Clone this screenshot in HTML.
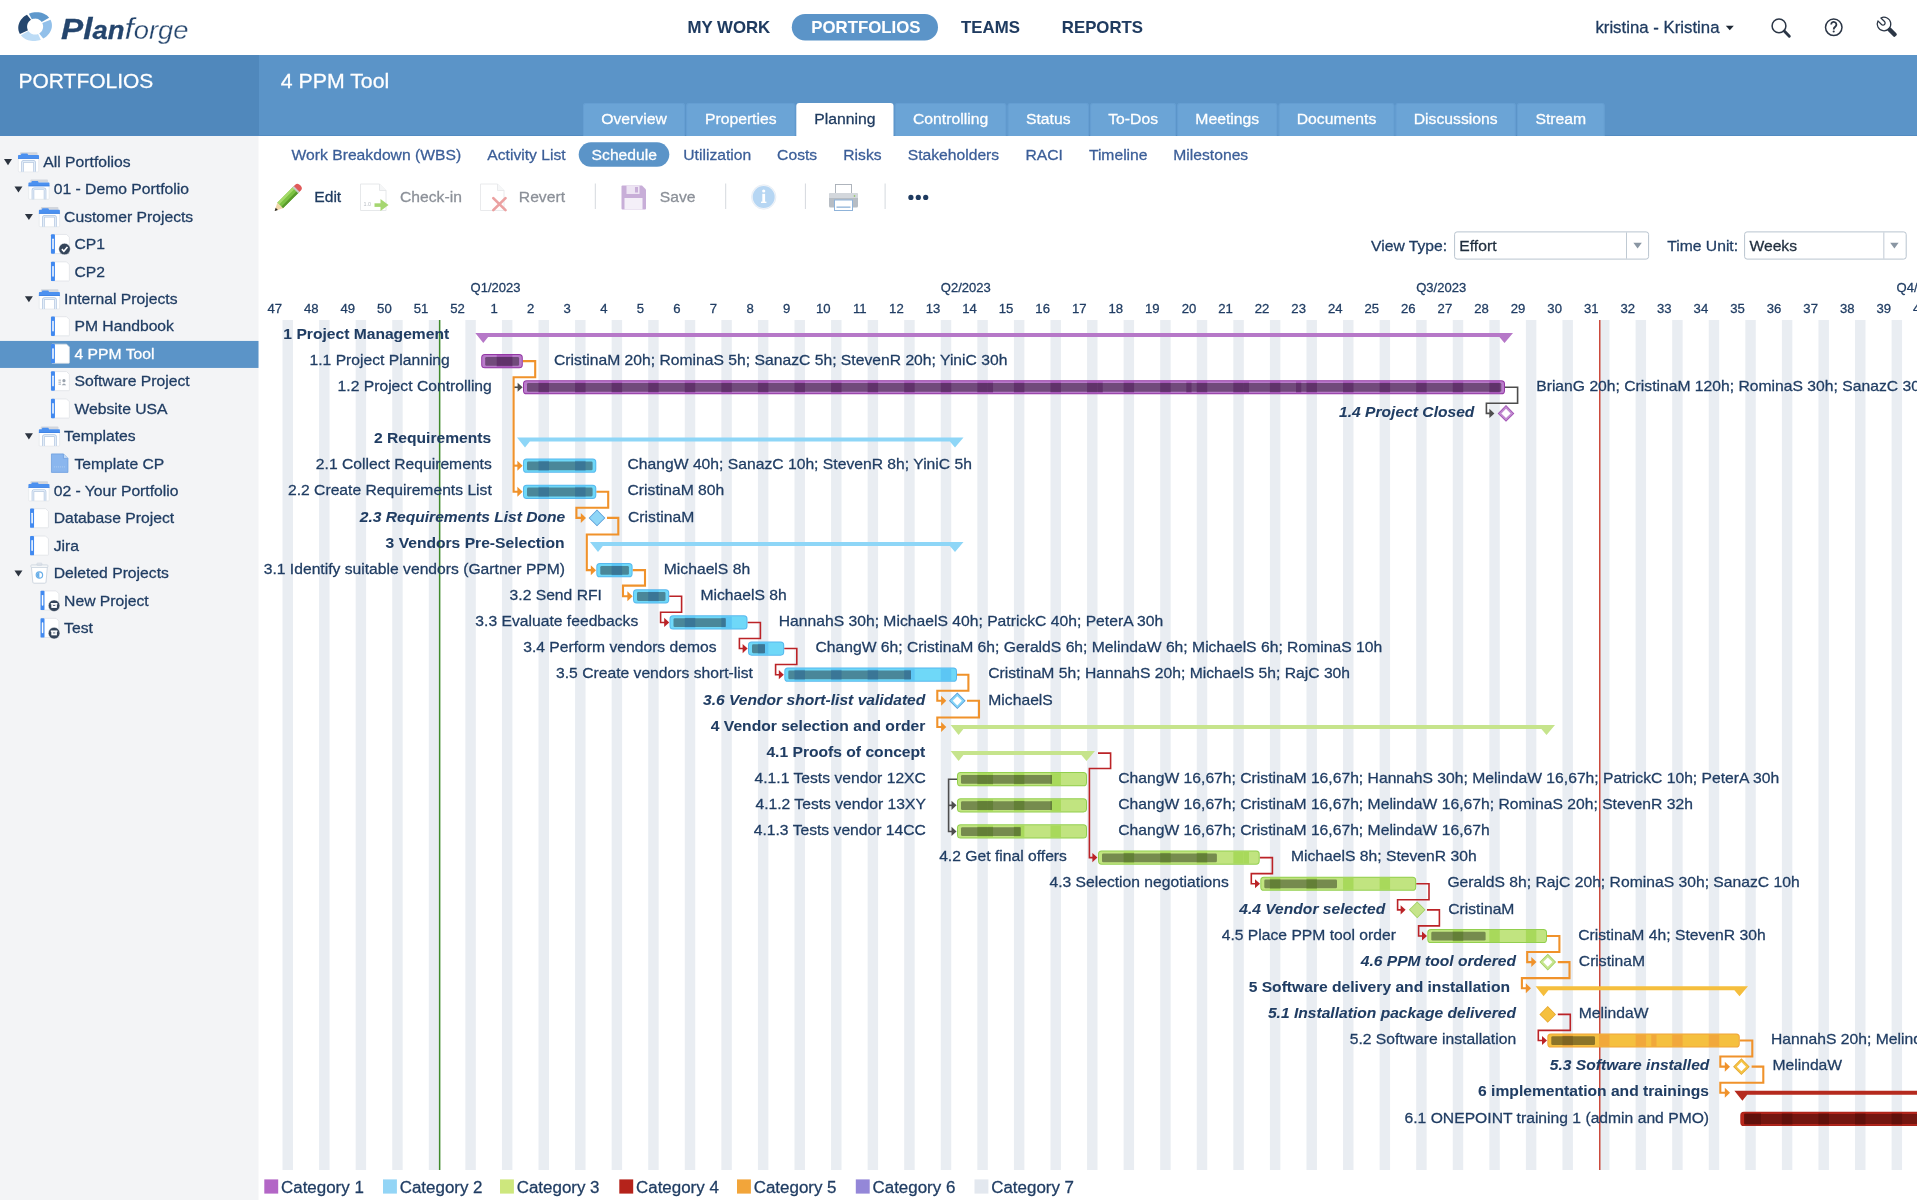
<!DOCTYPE html><html><head><meta charset="utf-8"><title>Planforge - 4 PPM Tool</title><style>html,body{margin:0;padding:0;background:#fff;}body{width:1920px;height:1200px;overflow:hidden;position:relative;font-family:"Liberation Sans", sans-serif;}svg text{font-family:"Liberation Sans", sans-serif;}svg{will-change:transform;}text.t{stroke-width:0.3px;}</style></head><body>
<svg width="1920" height="1200" viewBox="0 0 1920 1200" style="position:absolute;left:0;top:0" font-family="Liberation Sans, sans-serif">
<rect x="0" y="0" width="1920" height="1200" fill="#fff"/>
<g transform="rotate(-14 35.1 26.6)">
<polygon points="18.6,30.04 18.29,28.71 18.13,27.37 18.11,26.03 18.26,24.69 18.55,23.36 18.99,22.06 19.58,20.81 20.3,19.61 21.16,18.47 22.15,17.4 23.25,16.42 24.46,15.53 25.76,14.73 27.15,14.05 28.61,13.47 30.13,13.02 32.76,18.95 32.05,19.21 31.36,19.53 30.71,19.91 30.09,20.36 29.52,20.86 29.01,21.42 28.54,22.02 28.14,22.66 27.8,23.34 27.52,24.05 27.31,24.77 27.17,25.52 27.11,26.28 27.11,27.04 27.19,27.79 27.34,28.54" fill="#24466e"/>
<polygon points="32.15,12.62 33.58,12.46 35.03,12.4 36.47,12.45 37.91,12.59 39.32,12.84 40.7,13.19 42.05,13.64 43.34,14.18 44.58,14.81 45.74,15.53 46.83,16.32 47.83,17.19 48.74,18.13 49.56,19.13 50.26,20.18 50.86,21.28 42.52,23.6 42.24,22.98 41.9,22.39 41.52,21.83 41.09,21.3 40.62,20.81 40.11,20.36 39.56,19.96 38.98,19.6 38.37,19.3 37.74,19.05 37.09,18.85 36.42,18.71 35.75,18.63 35.07,18.6 34.39,18.63 33.71,18.72" fill="#5e98cc"/>
<polygon points="51.73,23.65 51.98,24.95 52.1,26.26 52.06,27.58 51.88,28.88 51.55,30.17 51.09,31.43 50.48,32.64 49.75,33.81 48.89,34.91 47.91,35.94 46.82,36.89 45.62,37.75 44.34,38.52 42.98,39.18 41.55,39.74 40.07,40.18 37.44,34.25 38.14,34 38.81,33.69 39.45,33.31 40.05,32.88 40.61,32.4 41.13,31.86 41.59,31.28 41.99,30.66 42.34,30 42.62,29.32 42.84,28.61 43,27.89 43.08,27.15 43.1,26.41 43.05,25.67 42.93,24.94" fill="#92c0ea"/>
<polygon points="37.47,40.66 36.03,40.78 34.58,40.79 33.14,40.71 31.71,40.51 30.31,40.22 28.94,39.83 27.61,39.35 26.34,38.77 25.14,38.11 24,37.36 22.95,36.53 21.98,35.63 21.11,34.67 20.34,33.65 19.68,32.57 19.13,31.46 27.58,29.34 27.84,29.97 28.15,30.57 28.52,31.15 28.93,31.69 29.38,32.19 29.88,32.66 30.41,33.08 30.98,33.46 31.58,33.78 32.2,34.06 32.84,34.28 33.51,34.44 34.18,34.55 34.86,34.6 35.54,34.59 36.21,34.52" fill="#bddcf6"/>
</g>
<text transform="matrix(1,0,0,0.98,61,38.7)" font-size="31" fill="#24456d" font-style="italic" textLength="127.5" lengthAdjust="spacingAndGlyphs" stroke="#24456d" stroke-width="0.28"><tspan font-weight="bold">Pl</tspan><tspan font-weight="bold" font-size="25.5">an</tspan><tspan stroke="#fff" stroke-width="0.3" font-size="31">f</tspan><tspan stroke="#fff" stroke-width="0.3" font-size="25.5">orge</tspan></text>
<text transform="matrix(1,0,0,0.98,687.5,33)" font-size="16.8" fill="#1f3b60" font-weight="bold" stroke="#1f3b60" stroke-width="0.06">MY WORK</text>
<rect x="791.8" y="14" width="146.2" height="26.4" rx="13.2" fill="#5b94c8"/>
<text transform="matrix(1,0,0,0.98,811.3,33)" font-size="16.8" fill="#fff" font-weight="bold" stroke="#fff" stroke-width="0.06">PORTFOLIOS</text>
<text transform="matrix(1,0,0,0.98,961.1,33)" font-size="16.8" fill="#1f3b60" font-weight="bold" stroke="#1f3b60" stroke-width="0.06">TEAMS</text>
<text transform="matrix(1,0,0,0.98,1061.8,33)" font-size="16.8" fill="#1f3b60" font-weight="bold" stroke="#1f3b60" stroke-width="0.06">REPORTS</text>
<text transform="matrix(1,0,0,0.98,1595.4,33)" font-size="16.8" fill="#1f3b60" stroke="#1f3b60" stroke-width="0.28">kristina - Kristina</text>
<polygon points="1725.8,25.8 1733.8,25.8 1729.8,30.2" fill="#1e2835"/>
<circle cx="1779" cy="25.9" r="6.9" fill="none" stroke="#2b3646" stroke-width="1.5"/>
<path d="M1784.2,31.1 L1789.3,36.3" stroke="#2b3646" stroke-width="2.9" stroke-linecap="round"/>
<circle cx="1833.75" cy="27.3" r="8.25" fill="none" stroke="#2b3646" stroke-width="1.5"/>
<path d="M1831.2,24.6 A2.6,2.6 0 1 1 1835.4,26.6 Q1833.7,27.6 1833.7,29.4" fill="none" stroke="#2b3646" stroke-width="1.8"/>
<circle cx="1833.7" cy="31.5" r="1.05" fill="#2b3646"/>
<g transform="translate(1884,24) rotate(-45)"><path d="M-2.1,-6.47 A6.8,6.8 0 1 0 2.1,-6.47 L2.1,-1.4 A2.1,2.1 0 0 1 -2.1,-1.4 Z" fill="#fff" stroke="#2b3646" stroke-width="1.25" stroke-linejoin="round"/><rect x="-2.25" y="6.2" width="4.5" height="10.6" rx="1.6" fill="#2b3646"/></g>
<rect x="0" y="55" width="259" height="81" fill="#5088bc"/>
<rect x="259" y="55" width="1658" height="81" fill="#5b94c8"/>
<rect x="0" y="135.2" width="1917" height="0.8" fill="#5089c0"/>
<text transform="matrix(1,0,0,0.98,18.6,87.7)" font-size="20.95" fill="#fff" stroke="#fff" stroke-width="0.28">PORTFOLIOS</text>
<text transform="matrix(1,0,0,0.98,280.8,87.7)" font-size="21.3" fill="#fff" stroke="#fff" stroke-width="0.28">4 PPM Tool</text>
<path d="M583,136 V106 Q583,103 586,103 H682 Q685,103 685,106 V136 Z" fill="#6ba4d6"/>
<path d="M583.4,136 V106 Q583.4,103.4 586,103.4 H682 Q684.6,103.4 684.6,106 V136" fill="none" stroke="#639cd0" stroke-width="0.8"/>
<text transform="matrix(1,0,0,0.98,634,123.6)" font-size="15.75" fill="#fff" text-anchor="middle" stroke="#fff" stroke-width="0.28">Overview</text>
<path d="M686.2,136 V106 Q686.2,103 689.2,103 H792.3 Q795.3,103 795.3,106 V136 Z" fill="#6ba4d6"/>
<path d="M686.6,136 V106 Q686.6,103.4 689.2,103.4 H792.3 Q794.9,103.4 794.9,106 V136" fill="none" stroke="#639cd0" stroke-width="0.8"/>
<text transform="matrix(1,0,0,0.98,740.75,123.6)" font-size="15.75" fill="#fff" text-anchor="middle" stroke="#fff" stroke-width="0.28">Properties</text>
<path d="M796.3,136 V106 Q796.3,103 799.3,103 H890.5 Q893.5,103 893.5,106 V136 Z" fill="#fff"/>
<text transform="matrix(1,0,0,0.98,844.9,123.6)" font-size="15.75" fill="#1f3b60" text-anchor="middle" stroke="#1f3b60" stroke-width="0.28">Planning</text>
<path d="M894.8,136 V106 Q894.8,103 897.8,103 H1003.3 Q1006.3,103 1006.3,106 V136 Z" fill="#6ba4d6"/>
<path d="M895.2,136 V106 Q895.2,103.4 897.8,103.4 H1003.3 Q1005.9,103.4 1005.9,106 V136" fill="none" stroke="#639cd0" stroke-width="0.8"/>
<text transform="matrix(1,0,0,0.98,950.55,123.6)" font-size="15.75" fill="#fff" text-anchor="middle" stroke="#fff" stroke-width="0.28">Controlling</text>
<path d="M1007.6,136 V106 Q1007.6,103 1010.6,103 H1085.9 Q1088.9,103 1088.9,106 V136 Z" fill="#6ba4d6"/>
<path d="M1008,136 V106 Q1008,103.4 1010.6,103.4 H1085.9 Q1088.5,103.4 1088.5,106 V136" fill="none" stroke="#639cd0" stroke-width="0.8"/>
<text transform="matrix(1,0,0,0.98,1048.25,123.6)" font-size="15.75" fill="#fff" text-anchor="middle" stroke="#fff" stroke-width="0.28">Status</text>
<path d="M1090.2,136 V106 Q1090.2,103 1093.2,103 H1173 Q1176,103 1176,106 V136 Z" fill="#6ba4d6"/>
<path d="M1090.6,136 V106 Q1090.6,103.4 1093.2,103.4 H1173 Q1175.6,103.4 1175.6,106 V136" fill="none" stroke="#639cd0" stroke-width="0.8"/>
<text transform="matrix(1,0,0,0.98,1133.1,123.6)" font-size="15.75" fill="#fff" text-anchor="middle" stroke="#fff" stroke-width="0.28">To-Dos</text>
<path d="M1177.2,136 V106 Q1177.2,103 1180.2,103 H1274.3 Q1277.3,103 1277.3,106 V136 Z" fill="#6ba4d6"/>
<path d="M1177.6,136 V106 Q1177.6,103.4 1180.2,103.4 H1274.3 Q1276.9,103.4 1276.9,106 V136" fill="none" stroke="#639cd0" stroke-width="0.8"/>
<text transform="matrix(1,0,0,0.98,1227.25,123.6)" font-size="15.75" fill="#fff" text-anchor="middle" stroke="#fff" stroke-width="0.28">Meetings</text>
<path d="M1278.6,136 V106 Q1278.6,103 1281.6,103 H1391.4 Q1394.4,103 1394.4,106 V136 Z" fill="#6ba4d6"/>
<path d="M1279,136 V106 Q1279,103.4 1281.6,103.4 H1391.4 Q1394,103.4 1394,106 V136" fill="none" stroke="#639cd0" stroke-width="0.8"/>
<text transform="matrix(1,0,0,0.98,1336.5,123.6)" font-size="15.75" fill="#fff" text-anchor="middle" stroke="#fff" stroke-width="0.28">Documents</text>
<path d="M1395.5,136 V106 Q1395.5,103 1398.5,103 H1512.8 Q1515.8,103 1515.8,106 V136 Z" fill="#6ba4d6"/>
<path d="M1395.9,136 V106 Q1395.9,103.4 1398.5,103.4 H1512.8 Q1515.4,103.4 1515.4,106 V136" fill="none" stroke="#639cd0" stroke-width="0.8"/>
<text transform="matrix(1,0,0,0.98,1455.65,123.6)" font-size="15.75" fill="#fff" text-anchor="middle" stroke="#fff" stroke-width="0.28">Discussions</text>
<path d="M1517,136 V106 Q1517,103 1520,103 H1601.7 Q1604.7,103 1604.7,106 V136 Z" fill="#6ba4d6"/>
<path d="M1517.4,136 V106 Q1517.4,103.4 1520,103.4 H1601.7 Q1604.3,103.4 1604.3,106 V136" fill="none" stroke="#639cd0" stroke-width="0.8"/>
<text transform="matrix(1,0,0,0.98,1560.85,123.6)" font-size="15.75" fill="#fff" text-anchor="middle" stroke="#fff" stroke-width="0.28">Stream</text>
<rect x="0" y="136" width="258.5" height="1064" fill="#f3f4f6"/>
<polygon points="4,159.1 12,159.1 8,165.2" fill="#2c3440"/>
<g transform="translate(18,152.2)"><rect x="2" y="0" width="17.5" height="3.4" rx="0.8" fill="#d2d6dd"/><rect x="0.3" y="2.9" width="20.4" height="16.8" rx="0.8" fill="#fff" stroke="#dfe2e7" stroke-width="0.6"/><path d="M0,3.6 Q0,2.8 0.8,2.8 H2.8 L3.5,1.3 H9.4 L10.2,2.8 H20.2 Q21,2.8 21,3.6 V6.6 H0 Z" fill="#4c91f0"/><path d="M0,5.9 H21 V6.6 H0 Z" fill="#3b7fe0"/><path d="M4.5,19.6 V10.6 Q4.5,9.2 5.9,9.2 H15.2 Q16.6,9.2 16.6,10.6 V19.6" fill="none" stroke="#b3c6e0" stroke-width="2.6"/><path d="M4.5,19.6 V10.6 Q4.5,9.2 5.9,9.2 H15.2 Q16.6,9.2 16.6,10.6 V19.6" fill="none" stroke="#e2edf8" stroke-width="1.2"/></g>
<text transform="matrix(1,0,0,0.98,43.3,166.9)" font-size="15.72" fill="#203d63" stroke="#203d63" stroke-width="0.28">All Portfolios</text>
<polygon points="14.45,186.52 22.45,186.52 18.45,192.62" fill="#2c3440"/>
<g transform="translate(28.45,179.62)"><rect x="2" y="0" width="17.5" height="3.4" rx="0.8" fill="#d2d6dd"/><rect x="0.3" y="2.9" width="20.4" height="16.8" rx="0.8" fill="#fff" stroke="#dfe2e7" stroke-width="0.6"/><path d="M0,3.6 Q0,2.8 0.8,2.8 H2.8 L3.5,1.3 H9.4 L10.2,2.8 H20.2 Q21,2.8 21,3.6 V6.6 H0 Z" fill="#4c91f0"/><path d="M0,5.9 H21 V6.6 H0 Z" fill="#3b7fe0"/><path d="M4.5,19.6 V10.6 Q4.5,9.2 5.9,9.2 H15.2 Q16.6,9.2 16.6,10.6 V19.6" fill="none" stroke="#b3c6e0" stroke-width="2.6"/><path d="M4.5,19.6 V10.6 Q4.5,9.2 5.9,9.2 H15.2 Q16.6,9.2 16.6,10.6 V19.6" fill="none" stroke="#e2edf8" stroke-width="1.2"/></g>
<text transform="matrix(1,0,0,0.98,53.68,194.32)" font-size="15.72" fill="#203d63" stroke="#203d63" stroke-width="0.28">01 - Demo Portfolio</text>
<polygon points="24.9,213.94 32.9,213.94 28.9,220.04" fill="#2c3440"/>
<g transform="translate(38.9,207.04)"><rect x="2" y="0" width="17.5" height="3.4" rx="0.8" fill="#d2d6dd"/><rect x="0.3" y="2.9" width="20.4" height="16.8" rx="0.8" fill="#fff" stroke="#dfe2e7" stroke-width="0.6"/><path d="M0,3.6 Q0,2.8 0.8,2.8 H2.8 L3.5,1.3 H9.4 L10.2,2.8 H20.2 Q21,2.8 21,3.6 V6.6 H0 Z" fill="#4c91f0"/><path d="M0,5.9 H21 V6.6 H0 Z" fill="#3b7fe0"/><path d="M4.5,19.6 V10.6 Q4.5,9.2 5.9,9.2 H15.2 Q16.6,9.2 16.6,10.6 V19.6" fill="none" stroke="#b3c6e0" stroke-width="2.6"/><path d="M4.5,19.6 V10.6 Q4.5,9.2 5.9,9.2 H15.2 Q16.6,9.2 16.6,10.6 V19.6" fill="none" stroke="#e2edf8" stroke-width="1.2"/></g>
<text transform="matrix(1,0,0,0.98,64.06,221.74)" font-size="15.72" fill="#203d63" stroke="#203d63" stroke-width="0.28">Customer Projects</text>
<g transform="translate(50.95,234.06)"><path d="M1,0.4 H15.6 L18.4,3.2 V18.9 Q18.4,19.5 17.8,19.5 H1 Z" fill="#fff" stroke="#dcdfe4" stroke-width="0.7"/><rect x="0" y="0.2" width="4" height="19.4" rx="0.9" fill="#4189f0"/><rect x="1.3" y="4.4" width="1.5" height="10.8" rx="0.7" fill="#fff"/><circle cx="13.6" cy="15" r="5.8" fill="#344459" stroke="#fff" stroke-width="0.5"/><path d="M10.9,15.1 L12.9,17.2 L16.5,12.9" fill="none" stroke="#fff" stroke-width="1.6"/></g>
<text transform="matrix(1,0,0,0.98,74.44,249.16)" font-size="15.72" fill="#203d63" stroke="#203d63" stroke-width="0.28">CP1</text>
<g transform="translate(50.95,261.48)"><path d="M1,0.4 H15.6 L18.4,3.2 V18.9 Q18.4,19.5 17.8,19.5 H1 Z" fill="#fff" stroke="#dcdfe4" stroke-width="0.7"/><rect x="0" y="0.2" width="4" height="19.4" rx="0.9" fill="#4189f0"/><rect x="1.3" y="4.4" width="1.5" height="10.8" rx="0.7" fill="#fff"/></g>
<text transform="matrix(1,0,0,0.98,74.44,276.58)" font-size="15.72" fill="#203d63" stroke="#203d63" stroke-width="0.28">CP2</text>
<polygon points="24.9,296.2 32.9,296.2 28.9,302.3" fill="#2c3440"/>
<g transform="translate(38.9,289.3)"><rect x="2" y="0" width="17.5" height="3.4" rx="0.8" fill="#d2d6dd"/><rect x="0.3" y="2.9" width="20.4" height="16.8" rx="0.8" fill="#fff" stroke="#dfe2e7" stroke-width="0.6"/><path d="M0,3.6 Q0,2.8 0.8,2.8 H2.8 L3.5,1.3 H9.4 L10.2,2.8 H20.2 Q21,2.8 21,3.6 V6.6 H0 Z" fill="#4c91f0"/><path d="M0,5.9 H21 V6.6 H0 Z" fill="#3b7fe0"/><path d="M4.5,19.6 V10.6 Q4.5,9.2 5.9,9.2 H15.2 Q16.6,9.2 16.6,10.6 V19.6" fill="none" stroke="#b3c6e0" stroke-width="2.6"/><path d="M4.5,19.6 V10.6 Q4.5,9.2 5.9,9.2 H15.2 Q16.6,9.2 16.6,10.6 V19.6" fill="none" stroke="#e2edf8" stroke-width="1.2"/></g>
<text transform="matrix(1,0,0,0.98,64.06,304)" font-size="15.72" fill="#203d63" stroke="#203d63" stroke-width="0.28">Internal Projects</text>
<g transform="translate(50.95,316.32)"><path d="M1,0.4 H15.6 L18.4,3.2 V18.9 Q18.4,19.5 17.8,19.5 H1 Z" fill="#fff" stroke="#dcdfe4" stroke-width="0.7"/><rect x="0" y="0.2" width="4" height="19.4" rx="0.9" fill="#4189f0"/><rect x="1.3" y="4.4" width="1.5" height="10.8" rx="0.7" fill="#fff"/></g>
<text transform="matrix(1,0,0,0.98,74.44,331.42)" font-size="15.72" fill="#203d63" stroke="#203d63" stroke-width="0.28">PM Handbook</text>
<rect x="0" y="340.94" width="258.5" height="27" fill="#5b94c8"/>
<g transform="translate(50.95,343.74)"><path d="M1,0.4 H15.6 L18.4,3.2 V18.9 Q18.4,19.5 17.8,19.5 H1 Z" fill="#fff" stroke="#dcdfe4" stroke-width="0.7"/><rect x="0" y="0.2" width="4" height="19.4" rx="0.9" fill="#4189f0"/><rect x="1.3" y="4.4" width="1.5" height="10.8" rx="0.7" fill="#fff"/></g>
<text transform="matrix(1,0,0,0.98,74.44,358.84)" font-size="15.72" fill="#fff" stroke="#fff" stroke-width="0.28">4 PPM Tool</text>
<g transform="translate(50.95,371.16)"><path d="M1,0.4 H15.6 L18.4,3.2 V18.9 Q18.4,19.5 17.8,19.5 H1 Z" fill="#fff" stroke="#dcdfe4" stroke-width="0.7"/><rect x="0" y="0.2" width="4" height="19.4" rx="0.9" fill="#4189f0"/><rect x="1.3" y="4.4" width="1.5" height="10.8" rx="0.7" fill="#fff"/><path d="M7.5,9 H10 M7.5,11 H10 M7.5,13 H10" stroke="#9aa3ad" stroke-width="0.9"/><circle cx="13" cy="9.5" r="1.6" fill="#9aa3ad"/><path d="M10.8,14 Q13,10.8 15.2,14 Z" fill="#9aa3ad"/></g>
<text transform="matrix(1,0,0,0.98,74.44,386.26)" font-size="15.72" fill="#203d63" stroke="#203d63" stroke-width="0.28">Software Project</text>
<g transform="translate(50.95,398.58)"><path d="M1,0.4 H15.6 L18.4,3.2 V18.9 Q18.4,19.5 17.8,19.5 H1 Z" fill="#fff" stroke="#dcdfe4" stroke-width="0.7"/><rect x="0" y="0.2" width="4" height="19.4" rx="0.9" fill="#4189f0"/><rect x="1.3" y="4.4" width="1.5" height="10.8" rx="0.7" fill="#fff"/></g>
<text transform="matrix(1,0,0,0.98,74.44,413.68)" font-size="15.72" fill="#203d63" stroke="#203d63" stroke-width="0.28">Website USA</text>
<polygon points="24.9,433.3 32.9,433.3 28.9,439.4" fill="#2c3440"/>
<g transform="translate(38.9,426.4)"><rect x="2" y="0" width="17.5" height="3.4" rx="0.8" fill="#d2d6dd"/><rect x="0.3" y="2.9" width="20.4" height="16.8" rx="0.8" fill="#fff" stroke="#dfe2e7" stroke-width="0.6"/><path d="M0,3.6 Q0,2.8 0.8,2.8 H2.8 L3.5,1.3 H9.4 L10.2,2.8 H20.2 Q21,2.8 21,3.6 V6.6 H0 Z" fill="#4c91f0"/><path d="M0,5.9 H21 V6.6 H0 Z" fill="#3b7fe0"/><path d="M4.5,19.6 V10.6 Q4.5,9.2 5.9,9.2 H15.2 Q16.6,9.2 16.6,10.6 V19.6" fill="none" stroke="#b3c6e0" stroke-width="2.6"/><path d="M4.5,19.6 V10.6 Q4.5,9.2 5.9,9.2 H15.2 Q16.6,9.2 16.6,10.6 V19.6" fill="none" stroke="#e2edf8" stroke-width="1.2"/></g>
<text transform="matrix(1,0,0,0.98,64.06,441.1)" font-size="15.72" fill="#203d63" stroke="#203d63" stroke-width="0.28">Templates</text>
<g transform="translate(50.95,453.42)"><path d="M0.5,0.5 H12.5 L17,5 V19 H0.5 Z" fill="#8ab6ee" stroke="#6d9fe0" stroke-width="0.8"/><path d="M12.5,0.5 V5 H17" fill="#c5dcf7" stroke="#6d9fe0" stroke-width="0.8"/><path d="M3,13.5 H14.5" stroke="#b8d2f2" stroke-width="0.8" stroke-dasharray="1 1"/></g>
<text transform="matrix(1,0,0,0.98,74.44,468.52)" font-size="15.72" fill="#203d63" stroke="#203d63" stroke-width="0.28">Template CP</text>
<g transform="translate(28.45,481.24)"><rect x="2" y="0" width="17.5" height="3.4" rx="0.8" fill="#d2d6dd"/><rect x="0.3" y="2.9" width="20.4" height="16.8" rx="0.8" fill="#fff" stroke="#dfe2e7" stroke-width="0.6"/><path d="M0,3.6 Q0,2.8 0.8,2.8 H2.8 L3.5,1.3 H9.4 L10.2,2.8 H20.2 Q21,2.8 21,3.6 V6.6 H0 Z" fill="#4c91f0"/><path d="M0,5.9 H21 V6.6 H0 Z" fill="#3b7fe0"/><path d="M4.5,19.6 V10.6 Q4.5,9.2 5.9,9.2 H15.2 Q16.6,9.2 16.6,10.6 V19.6" fill="none" stroke="#b3c6e0" stroke-width="2.6"/><path d="M4.5,19.6 V10.6 Q4.5,9.2 5.9,9.2 H15.2 Q16.6,9.2 16.6,10.6 V19.6" fill="none" stroke="#e2edf8" stroke-width="1.2"/></g>
<text transform="matrix(1,0,0,0.98,53.68,495.94)" font-size="15.72" fill="#203d63" stroke="#203d63" stroke-width="0.28">02 - Your Portfolio</text>
<g transform="translate(30.05,508.26)"><path d="M1,0.4 H15.6 L18.4,3.2 V18.9 Q18.4,19.5 17.8,19.5 H1 Z" fill="#fff" stroke="#dcdfe4" stroke-width="0.7"/><rect x="0" y="0.2" width="4" height="19.4" rx="0.9" fill="#4189f0"/><rect x="1.3" y="4.4" width="1.5" height="10.8" rx="0.7" fill="#fff"/></g>
<text transform="matrix(1,0,0,0.98,53.68,523.36)" font-size="15.72" fill="#203d63" stroke="#203d63" stroke-width="0.28">Database Project</text>
<g transform="translate(30.05,535.68)"><path d="M1,0.4 H15.6 L18.4,3.2 V18.9 Q18.4,19.5 17.8,19.5 H1 Z" fill="#fff" stroke="#dcdfe4" stroke-width="0.7"/><rect x="0" y="0.2" width="4" height="19.4" rx="0.9" fill="#4189f0"/><rect x="1.3" y="4.4" width="1.5" height="10.8" rx="0.7" fill="#fff"/></g>
<text transform="matrix(1,0,0,0.98,53.68,550.78)" font-size="15.72" fill="#203d63" stroke="#203d63" stroke-width="0.28">Jira</text>
<polygon points="14.45,570.4 22.45,570.4 18.45,576.5" fill="#2c3440"/>
<g transform="translate(30.4,562.7)"><path d="M1,4 H17 L15.6,19.5 Q15.4,20.5 14.4,20.5 H3.6 Q2.6,20.5 2.4,19.5 Z" fill="#fff" stroke="#c9d3de" stroke-width="0.9"/><rect x="0.5" y="2.2" width="17" height="2.6" rx="0.8" fill="#f4f6f8" stroke="#c9d3de" stroke-width="0.8"/><rect x="6.5" y="0.5" width="5" height="2" rx="0.6" fill="none" stroke="#c9d3de" stroke-width="0.8"/><circle cx="9" cy="12.3" r="3.2" fill="none" stroke="#68aee8" stroke-width="1.2"/><path d="M9,9.2 A3.2,3.2 0 0 0 9,15.5 Z" fill="#68aee8"/></g>
<text transform="matrix(1,0,0,0.98,53.68,578.2)" font-size="15.72" fill="#203d63" stroke="#203d63" stroke-width="0.28">Deleted Projects</text>
<g transform="translate(40.5,590.52)"><path d="M1,0.4 H15.6 L18.4,3.2 V18.9 Q18.4,19.5 17.8,19.5 H1 Z" fill="#fff" stroke="#dcdfe4" stroke-width="0.7"/><rect x="0" y="0.2" width="4" height="19.4" rx="0.9" fill="#4189f0"/><rect x="1.3" y="4.4" width="1.5" height="10.8" rx="0.7" fill="#fff"/><circle cx="13.6" cy="15.2" r="5.8" fill="#344459" stroke="#fff" stroke-width="0.5"/><rect x="10.8" y="13.7" width="5.6" height="3.7" fill="#fff"/><rect x="10.3" y="12.5" width="6.6" height="1.5" fill="#fff"/><rect x="12.4" y="14.6" width="2.4" height="0.8" fill="#344459"/></g>
<text transform="matrix(1,0,0,0.98,64.06,605.62)" font-size="15.72" fill="#203d63" stroke="#203d63" stroke-width="0.28">New Project</text>
<g transform="translate(40.5,617.94)"><path d="M1,0.4 H15.6 L18.4,3.2 V18.9 Q18.4,19.5 17.8,19.5 H1 Z" fill="#fff" stroke="#dcdfe4" stroke-width="0.7"/><rect x="0" y="0.2" width="4" height="19.4" rx="0.9" fill="#4189f0"/><rect x="1.3" y="4.4" width="1.5" height="10.8" rx="0.7" fill="#fff"/><circle cx="13.6" cy="15.2" r="5.8" fill="#344459" stroke="#fff" stroke-width="0.5"/><rect x="10.8" y="13.7" width="5.6" height="3.7" fill="#fff"/><rect x="10.3" y="12.5" width="6.6" height="1.5" fill="#fff"/><rect x="12.4" y="14.6" width="2.4" height="0.8" fill="#344459"/></g>
<text transform="matrix(1,0,0,0.98,64.06,633.04)" font-size="15.72" fill="#203d63" stroke="#203d63" stroke-width="0.28">Test</text>
<text transform="matrix(1,0,0,0.98,291.6,159.7)" font-size="15.68" fill="#3b5e98" stroke="#3b5e98" stroke-width="0.28">Work Breakdown (WBS)</text>
<text transform="matrix(1,0,0,0.98,487.3,159.7)" font-size="15.68" fill="#3b5e98" stroke="#3b5e98" stroke-width="0.28">Activity List</text>
<text transform="matrix(1,0,0,0.98,683.3,159.7)" font-size="15.68" fill="#3b5e98" stroke="#3b5e98" stroke-width="0.28">Utilization</text>
<text transform="matrix(1,0,0,0.98,777.1,159.7)" font-size="15.68" fill="#3b5e98" stroke="#3b5e98" stroke-width="0.28">Costs</text>
<text transform="matrix(1,0,0,0.98,843.3,159.7)" font-size="15.68" fill="#3b5e98" stroke="#3b5e98" stroke-width="0.28">Risks</text>
<text transform="matrix(1,0,0,0.98,907.7,159.7)" font-size="15.68" fill="#3b5e98" stroke="#3b5e98" stroke-width="0.28">Stakeholders</text>
<text transform="matrix(1,0,0,0.98,1025.4,159.7)" font-size="15.68" fill="#3b5e98" stroke="#3b5e98" stroke-width="0.28">RACI</text>
<text transform="matrix(1,0,0,0.98,1088.9,159.7)" font-size="15.68" fill="#3b5e98" stroke="#3b5e98" stroke-width="0.28">Timeline</text>
<text transform="matrix(1,0,0,0.98,1173.3,159.7)" font-size="15.68" fill="#3b5e98" stroke="#3b5e98" stroke-width="0.28">Milestones</text>
<rect x="578.7" y="142.3" width="90.6" height="24.5" rx="12.25" fill="#5b94c8"/>
<text transform="matrix(1,0,0,0.98,591.6,159.7)" font-size="15.68" fill="#fff" stroke="#fff" stroke-width="0.28">Schedule</text>
<g transform="translate(289.3,196.3) rotate(-45) scale(1.18)"><rect x="-11" y="-3.4" width="19" height="6.8" fill="#7cc242"/><rect x="-11" y="-3.4" width="19" height="2.2" fill="#a6db6a"/><rect x="-11" y="1.4" width="19" height="2" fill="#5a9a2c"/><path d="M8,-3.4 H10.5 Q13.2,-3.4 13.2,0 Q13.2,3.4 10.5,3.4 H8 Z" fill="#e05a5a"/><rect x="7.2" y="-3.4" width="1.6" height="6.8" fill="#c9c9c9"/><path d="M-11,-3.4 L-17.5,0 L-11,3.4 Z" fill="#f1d7a8"/><path d="M-15,-1.3 L-17.5,0 L-15,1.3 Z" fill="#222"/></g>
<text transform="matrix(1,0,0,0.98,314.2,202.3)" font-size="15.7" fill="#1f3b60" stroke="#1f3b60" stroke-width="0.28">Edit</text>
<g transform="translate(360,183.5)"><path d="M0.5,0.5 H19.5 L26,7 V27 H0.5 Z" fill="#fff" stroke="#e3e5e8" stroke-width="0.9"/><path d="M19.5,0.5 V7 H26" fill="#f5f6f7" stroke="#e3e5e8" stroke-width="0.9"/><text transform="matrix(1,0,0,0.98,3.5,22.5)" font-size="5.5" fill="#b9bec4">1.0</text><path d="M14.5,21.6 H21.5" stroke="#a5d670" stroke-width="3.6"/><path d="M20.5,15.6 L28.5,21.6 L20.5,27.6 Z" fill="#a5d670"/></g>
<text transform="matrix(1,0,0,0.98,400,202.3)" font-size="15.7" fill="#8b9098" stroke="#8b9098" stroke-width="0.28">Check-in</text>
<g transform="translate(480,183.5)"><path d="M0.5,0.5 H17.5 L24,7 V27 H0.5 Z" fill="#fff" stroke="#e6e8ea" stroke-width="0.9"/><path d="M17.5,0.5 V7 H24" fill="#f6f7f8" stroke="#e6e8ea" stroke-width="0.9"/><path d="M13.3,14.6 L25.5,26.6 M25.5,14.6 L13.3,26.6" stroke="#eba1a1" stroke-width="2.7" stroke-linecap="round"/></g>
<text transform="matrix(1,0,0,0.98,518.8,202.3)" font-size="15.7" fill="#8b9098" stroke="#8b9098" stroke-width="0.28">Revert</text>
<rect x="594.8" y="183.5" width="1" height="25.5" fill="#d5d9de"/>
<g transform="translate(621,185)"><path d="M0.5,1.5 Q0.5,0.5 1.5,0.5 H21 L25,4.5 V23.5 Q25,24.5 24,24.5 H1.5 Q0.5,24.5 0.5,23.5 Z" fill="#c8aed8"/><rect x="5.5" y="0.5" width="13" height="8.5" fill="#ede4f3"/><rect x="14" y="2" width="3" height="5.5" fill="#c8aed8"/><rect x="3.5" y="13" width="18" height="11.5" fill="#f4eff8"/></g>
<text transform="matrix(1,0,0,0.98,659.8,202.3)" font-size="15.7" fill="#8b9098" stroke="#8b9098" stroke-width="0.28">Save</text>
<rect x="725.2" y="183.5" width="1" height="25.5" fill="#d5d9de"/>
<circle cx="763.7" cy="197" r="12.2" fill="#f2f6fb" stroke="#e5ebf2" stroke-width="0.8"/>
<circle cx="763.7" cy="197" r="11" fill="#b6d6f3"/>
<circle cx="763.7" cy="191" r="1.6" fill="#fff"/>
<rect x="762.3" y="193.8" width="2.8" height="9.2" fill="#fff"/>
<rect x="761" y="201.6" width="5.4" height="1.4" fill="#fff"/>
<rect x="804.9" y="183.5" width="1" height="25.5" fill="#d5d9de"/>
<g transform="translate(828.5,184)"><rect x="7" y="0.5" width="16" height="9" fill="#fff" stroke="#a6adb5" stroke-width="0.9"/><path d="M2,9 Q0.5,9 0.5,11 V22 Q0.5,23.5 2,23.5 H28 Q29.5,23.5 29.5,22 V11 Q29.5,9 28,9 Z" fill="#b7bdc4"/><path d="M2,9 H28 Q29.5,9 29.5,11 V14 H0.5 V11 Q0.5,9 2,9 Z" fill="#d3d7dc"/><rect x="6" y="16" width="18" height="10.5" fill="#fff" stroke="#8fb3d9" stroke-width="1"/><rect x="8" y="22.5" width="14" height="1.3" fill="#8fb3d9"/><circle cx="26" cy="12" r="0.8" fill="#7cc242"/></g>
<rect x="884.6" y="183.5" width="1" height="25.5" fill="#d5d9de"/>
<circle cx="910.9" cy="197.4" r="2.6" fill="#1f3b60"/>
<circle cx="918.3" cy="197.4" r="2.6" fill="#1f3b60"/>
<circle cx="925.7" cy="197.4" r="2.6" fill="#1f3b60"/>
<text transform="matrix(1,0,0,0.98,1371,250.6)" font-size="15.7" fill="#203d63" stroke="#203d63" stroke-width="0.28">View Type:</text>
<rect x="1454.6" y="231.9" width="194" height="27.2" rx="2.5" fill="#fff" stroke="#b9c4cf" stroke-width="1"/>
<rect x="1626" y="232.4" width="0.9" height="26.2" fill="#b9c4cf"/>
<polygon points="1633.4,242.8 1641.8,242.8 1637.6,248.6" fill="#8a96a3"/>
<text transform="matrix(1,0,0,0.98,1459.3,251)" font-size="15.7" fill="#1f2d3d" stroke="#1f2d3d" stroke-width="0.28">Effort</text>
<text transform="matrix(1,0,0,0.98,1667.2,250.6)" font-size="15.7" fill="#203d63" stroke="#203d63" stroke-width="0.28">Time Unit:</text>
<rect x="1744.6" y="231.9" width="161.6" height="27.2" rx="2.5" fill="#fff" stroke="#b9c4cf" stroke-width="1"/>
<rect x="1883.4" y="232.4" width="0.9" height="26.2" fill="#b9c4cf"/>
<polygon points="1890.2,242.8 1898.6,242.8 1894.4,248.6" fill="#8a96a3"/>
<text transform="matrix(1,0,0,0.98,1749.4,251)" font-size="15.7" fill="#1f2d3d" stroke="#1f2d3d" stroke-width="0.28">Weeks</text>
<rect x="264.3" y="1179.4" width="13.9" height="14.2" fill="#b366c6"/>
<text transform="matrix(1,0,0,0.98,281,1193.2)" font-size="16.95" fill="#203d63" stroke="#203d63" stroke-width="0.28">Category 1</text>
<rect x="383" y="1179.4" width="13.9" height="14.2" fill="#93d5f6"/>
<text transform="matrix(1,0,0,0.98,399.7,1193.2)" font-size="16.95" fill="#203d63" stroke="#203d63" stroke-width="0.28">Category 2</text>
<rect x="500" y="1179.4" width="13.9" height="14.2" fill="#cde77d"/>
<text transform="matrix(1,0,0,0.98,516.7,1193.2)" font-size="16.95" fill="#203d63" stroke="#203d63" stroke-width="0.28">Category 3</text>
<rect x="619.3" y="1179.4" width="13.9" height="14.2" fill="#b5231b"/>
<text transform="matrix(1,0,0,0.98,636,1193.2)" font-size="16.95" fill="#203d63" stroke="#203d63" stroke-width="0.28">Category 4</text>
<rect x="737" y="1179.4" width="13.9" height="14.2" fill="#f2a53a"/>
<text transform="matrix(1,0,0,0.98,753.7,1193.2)" font-size="16.95" fill="#203d63" stroke="#203d63" stroke-width="0.28">Category 5</text>
<rect x="855.8" y="1179.4" width="13.9" height="14.2" fill="#9487d8"/>
<text transform="matrix(1,0,0,0.98,872.5,1193.2)" font-size="16.95" fill="#203d63" stroke="#203d63" stroke-width="0.28">Category 6</text>
<rect x="974.5" y="1179.4" width="13.9" height="14.2" fill="#e3e8ef"/>
<text transform="matrix(1,0,0,0.98,991.2,1193.2)" font-size="16.95" fill="#203d63" stroke="#203d63" stroke-width="0.28">Category 7</text>
</svg>
<svg width="1920" height="1200" style="position:absolute;left:0;top:0" font-family='Liberation Sans, sans-serif'>
<defs><clipPath id="cc"><rect x="258" y="270" width="1659" height="905"/></clipPath></defs>
<g clip-path="url(#cc)">
<rect x="245.95" y="320" width="10.45" height="850" fill="#e9edf2"/>
<rect x="282.52" y="320" width="10.45" height="850" fill="#e9edf2"/>
<rect x="319.09" y="320" width="10.45" height="850" fill="#e9edf2"/>
<rect x="355.66" y="320" width="10.45" height="850" fill="#e9edf2"/>
<rect x="392.23" y="320" width="10.45" height="850" fill="#e9edf2"/>
<rect x="428.8" y="320" width="10.45" height="850" fill="#e9edf2"/>
<rect x="465.37" y="320" width="10.45" height="850" fill="#e9edf2"/>
<rect x="501.94" y="320" width="10.45" height="850" fill="#e9edf2"/>
<rect x="538.51" y="320" width="10.45" height="850" fill="#e9edf2"/>
<rect x="575.08" y="320" width="10.45" height="850" fill="#e9edf2"/>
<rect x="611.65" y="320" width="10.45" height="850" fill="#e9edf2"/>
<rect x="648.22" y="320" width="10.45" height="850" fill="#e9edf2"/>
<rect x="684.79" y="320" width="10.45" height="850" fill="#e9edf2"/>
<rect x="721.36" y="320" width="10.45" height="850" fill="#e9edf2"/>
<rect x="757.93" y="320" width="10.45" height="850" fill="#e9edf2"/>
<rect x="794.5" y="320" width="10.45" height="850" fill="#e9edf2"/>
<rect x="831.07" y="320" width="10.45" height="850" fill="#e9edf2"/>
<rect x="867.64" y="320" width="10.45" height="850" fill="#e9edf2"/>
<rect x="904.21" y="320" width="10.45" height="850" fill="#e9edf2"/>
<rect x="940.78" y="320" width="10.45" height="850" fill="#e9edf2"/>
<rect x="977.35" y="320" width="10.45" height="850" fill="#e9edf2"/>
<rect x="1013.92" y="320" width="10.45" height="850" fill="#e9edf2"/>
<rect x="1050.49" y="320" width="10.45" height="850" fill="#e9edf2"/>
<rect x="1087.06" y="320" width="10.45" height="850" fill="#e9edf2"/>
<rect x="1123.63" y="320" width="10.45" height="850" fill="#e9edf2"/>
<rect x="1160.2" y="320" width="10.45" height="850" fill="#e9edf2"/>
<rect x="1196.77" y="320" width="10.45" height="850" fill="#e9edf2"/>
<rect x="1233.34" y="320" width="10.45" height="850" fill="#e9edf2"/>
<rect x="1269.91" y="320" width="10.45" height="850" fill="#e9edf2"/>
<rect x="1306.48" y="320" width="10.45" height="850" fill="#e9edf2"/>
<rect x="1343.05" y="320" width="10.45" height="850" fill="#e9edf2"/>
<rect x="1379.62" y="320" width="10.45" height="850" fill="#e9edf2"/>
<rect x="1416.19" y="320" width="10.45" height="850" fill="#e9edf2"/>
<rect x="1452.76" y="320" width="10.45" height="850" fill="#e9edf2"/>
<rect x="1489.33" y="320" width="10.45" height="850" fill="#e9edf2"/>
<rect x="1525.9" y="320" width="10.45" height="850" fill="#e9edf2"/>
<rect x="1562.47" y="320" width="10.45" height="850" fill="#e9edf2"/>
<rect x="1599.04" y="320" width="10.45" height="850" fill="#e9edf2"/>
<rect x="1635.61" y="320" width="10.45" height="850" fill="#e9edf2"/>
<rect x="1672.18" y="320" width="10.45" height="850" fill="#e9edf2"/>
<rect x="1708.75" y="320" width="10.45" height="850" fill="#e9edf2"/>
<rect x="1745.32" y="320" width="10.45" height="850" fill="#e9edf2"/>
<rect x="1781.89" y="320" width="10.45" height="850" fill="#e9edf2"/>
<rect x="1818.46" y="320" width="10.45" height="850" fill="#e9edf2"/>
<rect x="1855.03" y="320" width="10.45" height="850" fill="#e9edf2"/>
<rect x="1891.6" y="320" width="10.45" height="850" fill="#e9edf2"/>
<rect x="1928.17" y="320" width="10.45" height="850" fill="#e9edf2"/>
<text transform="matrix(1,0,0,0.98,470.6,291.9)" font-size="13.05" fill="#203d63" stroke="#203d63" stroke-width="0.28">Q1/2023</text>
<text transform="matrix(1,0,0,0.98,940.8,291.9)" font-size="13.05" fill="#203d63" stroke="#203d63" stroke-width="0.28">Q2/2023</text>
<text transform="matrix(1,0,0,0.98,1416.2,291.9)" font-size="13.05" fill="#203d63" stroke="#203d63" stroke-width="0.28">Q3/2023</text>
<text transform="matrix(1,0,0,0.98,1896.6,291.9)" font-size="13.05" fill="#203d63" stroke="#203d63" stroke-width="0.28">Q4/2023</text>
<text transform="matrix(1,0,0,0.98,274.69,313.1)" font-size="13.15" fill="#203d63" text-anchor="middle" stroke="#203d63" stroke-width="0.28">47</text>
<text transform="matrix(1,0,0,0.98,311.25,313.1)" font-size="13.15" fill="#203d63" text-anchor="middle" stroke="#203d63" stroke-width="0.28">48</text>
<text transform="matrix(1,0,0,0.98,347.82,313.1)" font-size="13.15" fill="#203d63" text-anchor="middle" stroke="#203d63" stroke-width="0.28">49</text>
<text transform="matrix(1,0,0,0.98,384.4,313.1)" font-size="13.15" fill="#203d63" text-anchor="middle" stroke="#203d63" stroke-width="0.28">50</text>
<text transform="matrix(1,0,0,0.98,420.96,313.1)" font-size="13.15" fill="#203d63" text-anchor="middle" stroke="#203d63" stroke-width="0.28">51</text>
<text transform="matrix(1,0,0,0.98,457.54,313.1)" font-size="13.15" fill="#203d63" text-anchor="middle" stroke="#203d63" stroke-width="0.28">52</text>
<text transform="matrix(1,0,0,0.98,494.11,313.1)" font-size="13.15" fill="#203d63" text-anchor="middle" stroke="#203d63" stroke-width="0.28">1</text>
<text transform="matrix(1,0,0,0.98,530.67,313.1)" font-size="13.15" fill="#203d63" text-anchor="middle" stroke="#203d63" stroke-width="0.28">2</text>
<text transform="matrix(1,0,0,0.98,567.25,313.1)" font-size="13.15" fill="#203d63" text-anchor="middle" stroke="#203d63" stroke-width="0.28">3</text>
<text transform="matrix(1,0,0,0.98,603.81,313.1)" font-size="13.15" fill="#203d63" text-anchor="middle" stroke="#203d63" stroke-width="0.28">4</text>
<text transform="matrix(1,0,0,0.98,640.38,313.1)" font-size="13.15" fill="#203d63" text-anchor="middle" stroke="#203d63" stroke-width="0.28">5</text>
<text transform="matrix(1,0,0,0.98,676.95,313.1)" font-size="13.15" fill="#203d63" text-anchor="middle" stroke="#203d63" stroke-width="0.28">6</text>
<text transform="matrix(1,0,0,0.98,713.52,313.1)" font-size="13.15" fill="#203d63" text-anchor="middle" stroke="#203d63" stroke-width="0.28">7</text>
<text transform="matrix(1,0,0,0.98,750.09,313.1)" font-size="13.15" fill="#203d63" text-anchor="middle" stroke="#203d63" stroke-width="0.28">8</text>
<text transform="matrix(1,0,0,0.98,786.66,313.1)" font-size="13.15" fill="#203d63" text-anchor="middle" stroke="#203d63" stroke-width="0.28">9</text>
<text transform="matrix(1,0,0,0.98,823.23,313.1)" font-size="13.15" fill="#203d63" text-anchor="middle" stroke="#203d63" stroke-width="0.28">10</text>
<text transform="matrix(1,0,0,0.98,859.8,313.1)" font-size="13.15" fill="#203d63" text-anchor="middle" stroke="#203d63" stroke-width="0.28">11</text>
<text transform="matrix(1,0,0,0.98,896.38,313.1)" font-size="13.15" fill="#203d63" text-anchor="middle" stroke="#203d63" stroke-width="0.28">12</text>
<text transform="matrix(1,0,0,0.98,932.94,313.1)" font-size="13.15" fill="#203d63" text-anchor="middle" stroke="#203d63" stroke-width="0.28">13</text>
<text transform="matrix(1,0,0,0.98,969.51,313.1)" font-size="13.15" fill="#203d63" text-anchor="middle" stroke="#203d63" stroke-width="0.28">14</text>
<text transform="matrix(1,0,0,0.98,1006.08,313.1)" font-size="13.15" fill="#203d63" text-anchor="middle" stroke="#203d63" stroke-width="0.28">15</text>
<text transform="matrix(1,0,0,0.98,1042.65,313.1)" font-size="13.15" fill="#203d63" text-anchor="middle" stroke="#203d63" stroke-width="0.28">16</text>
<text transform="matrix(1,0,0,0.98,1079.23,313.1)" font-size="13.15" fill="#203d63" text-anchor="middle" stroke="#203d63" stroke-width="0.28">17</text>
<text transform="matrix(1,0,0,0.98,1115.8,313.1)" font-size="13.15" fill="#203d63" text-anchor="middle" stroke="#203d63" stroke-width="0.28">18</text>
<text transform="matrix(1,0,0,0.98,1152.37,313.1)" font-size="13.15" fill="#203d63" text-anchor="middle" stroke="#203d63" stroke-width="0.28">19</text>
<text transform="matrix(1,0,0,0.98,1188.94,313.1)" font-size="13.15" fill="#203d63" text-anchor="middle" stroke="#203d63" stroke-width="0.28">20</text>
<text transform="matrix(1,0,0,0.98,1225.51,313.1)" font-size="13.15" fill="#203d63" text-anchor="middle" stroke="#203d63" stroke-width="0.28">21</text>
<text transform="matrix(1,0,0,0.98,1262.08,313.1)" font-size="13.15" fill="#203d63" text-anchor="middle" stroke="#203d63" stroke-width="0.28">22</text>
<text transform="matrix(1,0,0,0.98,1298.65,313.1)" font-size="13.15" fill="#203d63" text-anchor="middle" stroke="#203d63" stroke-width="0.28">23</text>
<text transform="matrix(1,0,0,0.98,1335.21,313.1)" font-size="13.15" fill="#203d63" text-anchor="middle" stroke="#203d63" stroke-width="0.28">24</text>
<text transform="matrix(1,0,0,0.98,1371.79,313.1)" font-size="13.15" fill="#203d63" text-anchor="middle" stroke="#203d63" stroke-width="0.28">25</text>
<text transform="matrix(1,0,0,0.98,1408.36,313.1)" font-size="13.15" fill="#203d63" text-anchor="middle" stroke="#203d63" stroke-width="0.28">26</text>
<text transform="matrix(1,0,0,0.98,1444.92,313.1)" font-size="13.15" fill="#203d63" text-anchor="middle" stroke="#203d63" stroke-width="0.28">27</text>
<text transform="matrix(1,0,0,0.98,1481.5,313.1)" font-size="13.15" fill="#203d63" text-anchor="middle" stroke="#203d63" stroke-width="0.28">28</text>
<text transform="matrix(1,0,0,0.98,1518.07,313.1)" font-size="13.15" fill="#203d63" text-anchor="middle" stroke="#203d63" stroke-width="0.28">29</text>
<text transform="matrix(1,0,0,0.98,1554.63,313.1)" font-size="13.15" fill="#203d63" text-anchor="middle" stroke="#203d63" stroke-width="0.28">30</text>
<text transform="matrix(1,0,0,0.98,1591.21,313.1)" font-size="13.15" fill="#203d63" text-anchor="middle" stroke="#203d63" stroke-width="0.28">31</text>
<text transform="matrix(1,0,0,0.98,1627.77,313.1)" font-size="13.15" fill="#203d63" text-anchor="middle" stroke="#203d63" stroke-width="0.28">32</text>
<text transform="matrix(1,0,0,0.98,1664.35,313.1)" font-size="13.15" fill="#203d63" text-anchor="middle" stroke="#203d63" stroke-width="0.28">33</text>
<text transform="matrix(1,0,0,0.98,1700.92,313.1)" font-size="13.15" fill="#203d63" text-anchor="middle" stroke="#203d63" stroke-width="0.28">34</text>
<text transform="matrix(1,0,0,0.98,1737.48,313.1)" font-size="13.15" fill="#203d63" text-anchor="middle" stroke="#203d63" stroke-width="0.28">35</text>
<text transform="matrix(1,0,0,0.98,1774.06,313.1)" font-size="13.15" fill="#203d63" text-anchor="middle" stroke="#203d63" stroke-width="0.28">36</text>
<text transform="matrix(1,0,0,0.98,1810.63,313.1)" font-size="13.15" fill="#203d63" text-anchor="middle" stroke="#203d63" stroke-width="0.28">37</text>
<text transform="matrix(1,0,0,0.98,1847.19,313.1)" font-size="13.15" fill="#203d63" text-anchor="middle" stroke="#203d63" stroke-width="0.28">38</text>
<text transform="matrix(1,0,0,0.98,1883.77,313.1)" font-size="13.15" fill="#203d63" text-anchor="middle" stroke="#203d63" stroke-width="0.28">39</text>
<text transform="matrix(1,0,0,0.98,1920.34,313.1)" font-size="13.15" fill="#203d63" text-anchor="middle" stroke="#203d63" stroke-width="0.28">40</text>
<rect x="438.9" y="320" width="1.5" height="850" fill="#3f8a2b"/>
<rect x="1599" y="320" width="1.5" height="850" fill="#cc4a3c"/>
</g>
</svg>
<svg width="1920" height="1200" style="position:absolute;left:0;top:0" font-family="Liberation Sans, sans-serif">
<defs><clipPath id="cc2"><rect x="258" y="270" width="1659" height="905"/></clipPath></defs>
<g clip-path="url(#cc2)">
<path d="M1505,387.26 L1517.6,387.26 L1517.6,403.26 L1486.4,403.26 L1486.4,413.39 L1490.4,413.39" fill="none" stroke="#4d4d4d" stroke-width="1.6" stroke-linejoin="miter"/>
<polygon points="1489.4,408.79 1494.4,413.39 1489.4,417.99" fill="#4d4d4d"/>
<path d="M513.6,387.26 H519" stroke="#4d4d4d" stroke-width="1.6"/>
<polygon points="517.6,382.66 522.6,387.26 517.6,391.86" fill="#4d4d4d"/>
<path d="M957,779.21 L948.6,779.21 L948.6,831.47 L953,831.47" fill="none" stroke="#4d4d4d" stroke-width="1.6" stroke-linejoin="miter"/>
<path d="M948.6,805.34 H953" stroke="#4d4d4d" stroke-width="1.6"/>
<polygon points="951.5,800.74 956.5,805.34 951.5,809.94" fill="#4d4d4d"/>
<polygon points="951.5,826.87 956.5,831.47 951.5,836.07" fill="#4d4d4d"/>
<path d="M522.8,361.13 L535.2,361.13 L535.2,377.3 L513.6,377.3 L513.6,491.78 L518,491.78" fill="none" stroke="#f0922b" stroke-width="2.1" stroke-linejoin="miter"/>
<polygon points="517.4,486.78 522.6,491.78 517.4,496.78" fill="#f0922b"/>
<path d="M513.6,465.65 H518" stroke="#f0922b" stroke-width="2.1"/>
<polygon points="517.4,460.65 522.6,465.65 517.4,470.65" fill="#f0922b"/>
<path d="M596.3,491.78 L608.2,491.78 L608.2,507.78 L576.4,507.78 L576.4,517.91 L582,517.91" fill="none" stroke="#f0922b" stroke-width="2.1" stroke-linejoin="miter"/>
<polygon points="580.8,512.91 586,517.91 580.8,522.91" fill="#f0922b"/>
<path d="M607,517.91 L618.3,517.91 L618.3,534.5 L586.8,534.5 L586.8,570.17 L592,570.17" fill="none" stroke="#f0922b" stroke-width="2.1" stroke-linejoin="miter"/>
<polygon points="590.8,565.17 596,570.17 590.8,575.17" fill="#f0922b"/>
<path d="M632.6,570.17 L645,570.17 L645,585.6 L623,585.6 L623,596.3 L628.6,596.3" fill="none" stroke="#f0922b" stroke-width="2.1" stroke-linejoin="miter"/>
<polygon points="627.4,591.3 632.6,596.3 627.4,601.3" fill="#f0922b"/>
<path d="M957,674.69 L968.4,674.69 L968.4,690.69 L937.3,690.69 L937.3,700.82 L942.3,700.82" fill="none" stroke="#f0922b" stroke-width="2.1" stroke-linejoin="miter"/>
<polygon points="941.1,695.82 946.3,700.82 941.1,705.82" fill="#f0922b"/>
<path d="M967,700.82 L979,700.82 L979,717.5 L937.3,717.5 L937.3,726.95 L942.3,726.95" fill="none" stroke="#f0922b" stroke-width="2.1" stroke-linejoin="miter"/>
<polygon points="941.1,721.95 946.3,726.95 941.1,731.95" fill="#f0922b"/>
<path d="M1547,935.99 L1559.4,935.99 L1559.4,951.99 L1527.2,951.99 L1527.2,962.12 L1532.5,962.12" fill="none" stroke="#f0922b" stroke-width="2.1" stroke-linejoin="miter"/>
<polygon points="1531.3,957.12 1536.5,962.12 1531.3,967.12" fill="#f0922b"/>
<path d="M1557.8,962.12 L1569.5,962.12 L1569.5,978.12 L1521.9,978.12 L1521.9,988.25 L1527,988.25" fill="none" stroke="#f0922b" stroke-width="2.1" stroke-linejoin="miter"/>
<polygon points="1525.8,983.25 1531,988.25 1525.8,993.25" fill="#f0922b"/>
<path d="M1739.8,1040.51 L1752.3,1040.51 L1752.3,1056.51 L1720.3,1056.51 L1720.3,1066.64 L1726,1066.64" fill="none" stroke="#f0922b" stroke-width="2.1" stroke-linejoin="miter"/>
<polygon points="1724.8,1061.64 1730,1066.64 1724.8,1071.64" fill="#f0922b"/>
<path d="M1751.6,1066.64 L1763.3,1066.64 L1763.3,1082.8 L1720.3,1082.8 L1720.3,1092.77 L1726,1092.77" fill="none" stroke="#f0922b" stroke-width="2.1" stroke-linejoin="miter"/>
<polygon points="1724.8,1087.77 1730,1092.77 1724.8,1097.77" fill="#f0922b"/>
<path d="M669.2,596.3 L681.6,596.3 L681.6,612.3 L660.6,612.3 L660.6,622.43 L665.2,622.43" fill="none" stroke="#bb2327" stroke-width="1.6" stroke-linejoin="miter"/>
<polygon points="664.2,617.83 669.2,622.43 664.2,627.03" fill="#bb2327"/>
<path d="M747.5,622.43 L760.4,622.43 L760.4,638.43 L739.4,638.43 L739.4,648.56 L743.6,648.56" fill="none" stroke="#bb2327" stroke-width="1.6" stroke-linejoin="miter"/>
<polygon points="742.6,643.96 747.6,648.56 742.6,653.16" fill="#bb2327"/>
<path d="M784.2,648.56 L796.8,648.56 L796.8,664.56 L775.6,664.56 L775.6,674.69 L779.8,674.69" fill="none" stroke="#bb2327" stroke-width="1.6" stroke-linejoin="miter"/>
<polygon points="778.8,670.09 783.8,674.69 778.8,679.29" fill="#bb2327"/>
<path d="M1098,753.08 L1110.6,753.08 L1110.6,768.5 L1089.4,768.5 L1089.4,857.6 L1093.4,857.6" fill="none" stroke="#bb2327" stroke-width="1.6" stroke-linejoin="miter"/>
<polygon points="1092.4,853 1097.4,857.6 1092.4,862.2" fill="#bb2327"/>
<path d="M1259.7,857.6 L1272.4,857.6 L1272.4,873.6 L1251.3,873.6 L1251.3,883.73 L1256,883.73" fill="none" stroke="#bb2327" stroke-width="1.6" stroke-linejoin="miter"/>
<polygon points="1255,879.13 1260,883.73 1255,888.33" fill="#bb2327"/>
<path d="M1416.2,883.73 L1429,883.73 L1429,899.73 L1397.6,899.73 L1397.6,909.86 L1401.6,909.86" fill="none" stroke="#bb2327" stroke-width="1.6" stroke-linejoin="miter"/>
<polygon points="1400.6,905.26 1405.6,909.86 1400.6,914.46" fill="#bb2327"/>
<path d="M1427,909.86 L1439.4,909.86 L1439.4,925.86 L1418.6,925.86 L1418.6,935.99 L1423,935.99" fill="none" stroke="#bb2327" stroke-width="1.6" stroke-linejoin="miter"/>
<polygon points="1422,931.39 1427,935.99 1422,940.59" fill="#bb2327"/>
<path d="M1557.8,1014.38 L1570.3,1014.38 L1570.3,1030.38 L1538.3,1030.38 L1538.3,1040.51 L1543,1040.51" fill="none" stroke="#bb2327" stroke-width="1.6" stroke-linejoin="miter"/>
<polygon points="1542,1035.91 1547,1040.51 1542,1045.11" fill="#bb2327"/>
<polygon points="475.3,333 1513,333 1504.5,343 1499.4,337 488.1,337 483.3,343" fill="#b678c8"/>
<clipPath id="bc1"><path d="M484.8,354.03 H519.2 A3.6,3.6 0 0 1 522.8,357.63 V364.63 A3.6,3.6 0 0 1 519.2,368.23 H484.8 A3.6,3.6 0 0 1 481.2,364.63 V357.63 A3.6,3.6 0 0 1 484.8,354.03 Z"/></clipPath>
<path d="M484.8,354.03 H519.2 A3.6,3.6 0 0 1 522.8,357.63 V364.63 A3.6,3.6 0 0 1 519.2,368.23 H484.8 A3.6,3.6 0 0 1 481.2,364.63 V357.63 A3.6,3.6 0 0 1 484.8,354.03 Z" fill="#9236a3"/>
<g clip-path="url(#bc1)">
<rect x="482.2" y="355.03" width="39.6" height="12.2" rx="2.6" fill="#b97bca"/>
<rect x="501.94" y="355.03" width="10.45" height="12.2" fill="#a659b8"/>
<rect x="496.72" y="355.03" width="5.22" height="12.2" fill="#a659b8"/>
<rect x="485.2" y="356.93" width="33.9" height="8.8" rx="1.3" fill="#714a7b"/>
<rect x="501.94" y="356.93" width="10.45" height="8.8" fill="#60326a"/>
<rect x="496.72" y="356.93" width="5.22" height="8.8" fill="#60326a"/>
</g>
<clipPath id="bc2"><path d="M526.6,380.16 H1501.4 A3.6,3.6 0 0 1 1505,383.76 V390.76 A3.6,3.6 0 0 1 1501.4,394.36 H526.6 A3.6,3.6 0 0 1 523,390.76 V383.76 A3.6,3.6 0 0 1 526.6,380.16 Z"/></clipPath>
<path d="M526.6,380.16 H1501.4 A3.6,3.6 0 0 1 1505,383.76 V390.76 A3.6,3.6 0 0 1 1501.4,394.36 H526.6 A3.6,3.6 0 0 1 523,390.76 V383.76 A3.6,3.6 0 0 1 526.6,380.16 Z" fill="#9236a3"/>
<g clip-path="url(#bc2)">
<rect x="524" y="381.16" width="980" height="12.2" rx="2.6" fill="#b97bca"/>
<rect x="538.51" y="381.16" width="10.45" height="12.2" fill="#a659b8"/>
<rect x="575.08" y="381.16" width="10.45" height="12.2" fill="#a659b8"/>
<rect x="611.65" y="381.16" width="10.45" height="12.2" fill="#a659b8"/>
<rect x="648.22" y="381.16" width="10.45" height="12.2" fill="#a659b8"/>
<rect x="684.79" y="381.16" width="10.45" height="12.2" fill="#a659b8"/>
<rect x="721.36" y="381.16" width="10.45" height="12.2" fill="#a659b8"/>
<rect x="757.93" y="381.16" width="10.45" height="12.2" fill="#a659b8"/>
<rect x="794.5" y="381.16" width="10.45" height="12.2" fill="#a659b8"/>
<rect x="831.07" y="381.16" width="10.45" height="12.2" fill="#a659b8"/>
<rect x="867.64" y="381.16" width="10.45" height="12.2" fill="#a659b8"/>
<rect x="904.21" y="381.16" width="10.45" height="12.2" fill="#a659b8"/>
<rect x="940.78" y="381.16" width="10.45" height="12.2" fill="#a659b8"/>
<rect x="977.35" y="381.16" width="10.45" height="12.2" fill="#a659b8"/>
<rect x="1013.92" y="381.16" width="10.45" height="12.2" fill="#a659b8"/>
<rect x="1050.49" y="381.16" width="10.45" height="12.2" fill="#a659b8"/>
<rect x="1087.06" y="381.16" width="10.45" height="12.2" fill="#a659b8"/>
<rect x="1123.63" y="381.16" width="10.45" height="12.2" fill="#a659b8"/>
<rect x="1160.2" y="381.16" width="10.45" height="12.2" fill="#a659b8"/>
<rect x="1196.77" y="381.16" width="10.45" height="12.2" fill="#a659b8"/>
<rect x="1233.34" y="381.16" width="10.45" height="12.2" fill="#a659b8"/>
<rect x="1269.91" y="381.16" width="10.45" height="12.2" fill="#a659b8"/>
<rect x="1306.48" y="381.16" width="10.45" height="12.2" fill="#a659b8"/>
<rect x="1343.05" y="381.16" width="10.45" height="12.2" fill="#a659b8"/>
<rect x="1379.62" y="381.16" width="10.45" height="12.2" fill="#a659b8"/>
<rect x="1416.19" y="381.16" width="10.45" height="12.2" fill="#a659b8"/>
<rect x="1452.76" y="381.16" width="10.45" height="12.2" fill="#a659b8"/>
<rect x="1489.33" y="381.16" width="10.45" height="12.2" fill="#a659b8"/>
<rect x="987.8" y="381.16" width="5.22" height="12.2" fill="#a659b8"/>
<rect x="1097.51" y="381.16" width="5.22" height="12.2" fill="#a659b8"/>
<rect x="1186.32" y="381.16" width="5.22" height="12.2" fill="#a659b8"/>
<rect x="1243.79" y="381.16" width="5.22" height="12.2" fill="#a659b8"/>
<rect x="1296.03" y="381.16" width="5.22" height="12.2" fill="#a659b8"/>
<rect x="527" y="383.06" width="974.3" height="8.8" rx="1.3" fill="#714a7b"/>
<rect x="538.51" y="383.06" width="10.45" height="8.8" fill="#60326a"/>
<rect x="575.08" y="383.06" width="10.45" height="8.8" fill="#60326a"/>
<rect x="611.65" y="383.06" width="10.45" height="8.8" fill="#60326a"/>
<rect x="648.22" y="383.06" width="10.45" height="8.8" fill="#60326a"/>
<rect x="684.79" y="383.06" width="10.45" height="8.8" fill="#60326a"/>
<rect x="721.36" y="383.06" width="10.45" height="8.8" fill="#60326a"/>
<rect x="757.93" y="383.06" width="10.45" height="8.8" fill="#60326a"/>
<rect x="794.5" y="383.06" width="10.45" height="8.8" fill="#60326a"/>
<rect x="831.07" y="383.06" width="10.45" height="8.8" fill="#60326a"/>
<rect x="867.64" y="383.06" width="10.45" height="8.8" fill="#60326a"/>
<rect x="904.21" y="383.06" width="10.45" height="8.8" fill="#60326a"/>
<rect x="940.78" y="383.06" width="10.45" height="8.8" fill="#60326a"/>
<rect x="977.35" y="383.06" width="10.45" height="8.8" fill="#60326a"/>
<rect x="1013.92" y="383.06" width="10.45" height="8.8" fill="#60326a"/>
<rect x="1050.49" y="383.06" width="10.45" height="8.8" fill="#60326a"/>
<rect x="1087.06" y="383.06" width="10.45" height="8.8" fill="#60326a"/>
<rect x="1123.63" y="383.06" width="10.45" height="8.8" fill="#60326a"/>
<rect x="1160.2" y="383.06" width="10.45" height="8.8" fill="#60326a"/>
<rect x="1196.77" y="383.06" width="10.45" height="8.8" fill="#60326a"/>
<rect x="1233.34" y="383.06" width="10.45" height="8.8" fill="#60326a"/>
<rect x="1269.91" y="383.06" width="10.45" height="8.8" fill="#60326a"/>
<rect x="1306.48" y="383.06" width="10.45" height="8.8" fill="#60326a"/>
<rect x="1343.05" y="383.06" width="10.45" height="8.8" fill="#60326a"/>
<rect x="1379.62" y="383.06" width="10.45" height="8.8" fill="#60326a"/>
<rect x="1416.19" y="383.06" width="10.45" height="8.8" fill="#60326a"/>
<rect x="1452.76" y="383.06" width="10.45" height="8.8" fill="#60326a"/>
<rect x="1489.33" y="383.06" width="10.45" height="8.8" fill="#60326a"/>
<rect x="987.8" y="383.06" width="5.22" height="8.8" fill="#60326a"/>
<rect x="1097.51" y="383.06" width="5.22" height="8.8" fill="#60326a"/>
<rect x="1186.32" y="383.06" width="5.22" height="8.8" fill="#60326a"/>
<rect x="1243.79" y="383.06" width="5.22" height="8.8" fill="#60326a"/>
<rect x="1296.03" y="383.06" width="5.22" height="8.8" fill="#60326a"/>
</g>
<polygon points="1497.7,413.39 1506,405.09 1514.3,413.39 1506,421.69" fill="#9b46ae"/>
<polygon points="1498.7,413.39 1506,406.09 1513.3,413.39 1506,420.69" fill="#c08ad0"/>
<polygon points="1501.4,413.39 1506,408.79 1510.6,413.39 1506,417.99" fill="#fff"/>
<polygon points="517,437.52 963.5,437.52 955,447.52 949.9,441.52 529.8,441.52 525,447.52" fill="#8ed6f7"/>
<clipPath id="bc5"><path d="M526.6,458.55 H592.7 A3.6,3.6 0 0 1 596.3,462.15 V469.15 A3.6,3.6 0 0 1 592.7,472.75 H526.6 A3.6,3.6 0 0 1 523,469.15 V462.15 A3.6,3.6 0 0 1 526.6,458.55 Z"/></clipPath>
<path d="M526.6,458.55 H592.7 A3.6,3.6 0 0 1 596.3,462.15 V469.15 A3.6,3.6 0 0 1 592.7,472.75 H526.6 A3.6,3.6 0 0 1 523,469.15 V462.15 A3.6,3.6 0 0 1 526.6,458.55 Z" fill="#56b8ee"/>
<g clip-path="url(#bc5)">
<rect x="524" y="459.55" width="71.3" height="12.2" rx="2.6" fill="#6fd8f8"/>
<rect x="538.51" y="459.55" width="10.45" height="12.2" fill="#5cc6f4"/>
<rect x="575.08" y="459.55" width="10.45" height="12.2" fill="#5cc6f4"/>
<rect x="527" y="461.45" width="65.6" height="8.8" rx="1.3" fill="#4a8799"/>
<rect x="538.51" y="461.45" width="10.45" height="8.8" fill="#3a7696"/>
<rect x="575.08" y="461.45" width="10.45" height="8.8" fill="#3a7696"/>
</g>
<clipPath id="bc6"><path d="M526.6,484.68 H592.7 A3.6,3.6 0 0 1 596.3,488.28 V495.28 A3.6,3.6 0 0 1 592.7,498.88 H526.6 A3.6,3.6 0 0 1 523,495.28 V488.28 A3.6,3.6 0 0 1 526.6,484.68 Z"/></clipPath>
<path d="M526.6,484.68 H592.7 A3.6,3.6 0 0 1 596.3,488.28 V495.28 A3.6,3.6 0 0 1 592.7,498.88 H526.6 A3.6,3.6 0 0 1 523,495.28 V488.28 A3.6,3.6 0 0 1 526.6,484.68 Z" fill="#56b8ee"/>
<g clip-path="url(#bc6)">
<rect x="524" y="485.68" width="71.3" height="12.2" rx="2.6" fill="#6fd8f8"/>
<rect x="538.51" y="485.68" width="10.45" height="12.2" fill="#5cc6f4"/>
<rect x="575.08" y="485.68" width="10.45" height="12.2" fill="#5cc6f4"/>
<rect x="527" y="487.58" width="65.6" height="8.8" rx="1.3" fill="#4a8799"/>
<rect x="538.51" y="487.58" width="10.45" height="8.8" fill="#3a7696"/>
<rect x="575.08" y="487.58" width="10.45" height="8.8" fill="#3a7696"/>
</g>
<polygon points="588.7,517.91 597,509.61 605.3,517.91 597,526.21" fill="#4e95d3"/>
<polygon points="589.7,517.91 597,510.61 604.3,517.91 597,525.21" fill="#8fd6f7"/>
<polygon points="590,542.04 963.5,542.04 955,552.04 949.9,546.04 602.8,546.04 598,552.04" fill="#8ed6f7"/>
<clipPath id="bc9"><path d="M599.9,563.07 H629 A3.6,3.6 0 0 1 632.6,566.67 V573.67 A3.6,3.6 0 0 1 629,577.27 H599.9 A3.6,3.6 0 0 1 596.3,573.67 V566.67 A3.6,3.6 0 0 1 599.9,563.07 Z"/></clipPath>
<path d="M599.9,563.07 H629 A3.6,3.6 0 0 1 632.6,566.67 V573.67 A3.6,3.6 0 0 1 629,577.27 H599.9 A3.6,3.6 0 0 1 596.3,573.67 V566.67 A3.6,3.6 0 0 1 599.9,563.07 Z" fill="#56b8ee"/>
<g clip-path="url(#bc9)">
<rect x="597.3" y="564.07" width="34.3" height="12.2" rx="2.6" fill="#6fd8f8"/>
<rect x="611.65" y="564.07" width="10.45" height="12.2" fill="#5cc6f4"/>
<rect x="600.3" y="565.97" width="28.6" height="8.8" rx="1.3" fill="#4a8799"/>
<rect x="611.65" y="565.97" width="10.45" height="8.8" fill="#3a7696"/>
</g>
<clipPath id="bc10"><path d="M636.6,589.2 H665.6 A3.6,3.6 0 0 1 669.2,592.8 V599.8 A3.6,3.6 0 0 1 665.6,603.4 H636.6 A3.6,3.6 0 0 1 633,599.8 V592.8 A3.6,3.6 0 0 1 636.6,589.2 Z"/></clipPath>
<path d="M636.6,589.2 H665.6 A3.6,3.6 0 0 1 669.2,592.8 V599.8 A3.6,3.6 0 0 1 665.6,603.4 H636.6 A3.6,3.6 0 0 1 633,599.8 V592.8 A3.6,3.6 0 0 1 636.6,589.2 Z" fill="#56b8ee"/>
<g clip-path="url(#bc10)">
<rect x="634" y="590.2" width="34.2" height="12.2" rx="2.6" fill="#6fd8f8"/>
<rect x="648.22" y="590.2" width="10.45" height="12.2" fill="#5cc6f4"/>
<rect x="637" y="592.1" width="28.5" height="8.8" rx="1.3" fill="#4a8799"/>
<rect x="648.22" y="592.1" width="10.45" height="8.8" fill="#3a7696"/>
</g>
<clipPath id="bc11"><path d="M673.1,615.33 H743.9 A3.6,3.6 0 0 1 747.5,618.93 V625.93 A3.6,3.6 0 0 1 743.9,629.53 H673.1 A3.6,3.6 0 0 1 669.5,625.93 V618.93 A3.6,3.6 0 0 1 673.1,615.33 Z"/></clipPath>
<path d="M673.1,615.33 H743.9 A3.6,3.6 0 0 1 747.5,618.93 V625.93 A3.6,3.6 0 0 1 743.9,629.53 H673.1 A3.6,3.6 0 0 1 669.5,625.93 V618.93 A3.6,3.6 0 0 1 673.1,615.33 Z" fill="#56b8ee"/>
<g clip-path="url(#bc11)">
<rect x="670.5" y="616.33" width="76" height="12.2" rx="2.6" fill="#6fd8f8"/>
<rect x="684.79" y="616.33" width="10.45" height="12.2" fill="#5cc6f4"/>
<rect x="721.36" y="616.33" width="10.45" height="12.2" fill="#5cc6f4"/>
<rect x="673.5" y="618.23" width="52.1" height="8.8" rx="1.3" fill="#4a8799"/>
<rect x="684.79" y="618.23" width="10.45" height="8.8" fill="#3a7696"/>
<rect x="721.36" y="618.23" width="4.24" height="8.8" fill="#3a7696"/>
</g>
<clipPath id="bc12"><path d="M751.6,641.46 H780.6 A3.6,3.6 0 0 1 784.2,645.06 V652.06 A3.6,3.6 0 0 1 780.6,655.66 H751.6 A3.6,3.6 0 0 1 748,652.06 V645.06 A3.6,3.6 0 0 1 751.6,641.46 Z"/></clipPath>
<path d="M751.6,641.46 H780.6 A3.6,3.6 0 0 1 784.2,645.06 V652.06 A3.6,3.6 0 0 1 780.6,655.66 H751.6 A3.6,3.6 0 0 1 748,652.06 V645.06 A3.6,3.6 0 0 1 751.6,641.46 Z" fill="#56b8ee"/>
<g clip-path="url(#bc12)">
<rect x="749" y="642.46" width="34.2" height="12.2" rx="2.6" fill="#6fd8f8"/>
<rect x="757.93" y="642.46" width="10.45" height="12.2" fill="#5cc6f4"/>
<rect x="752" y="644.36" width="13" height="8.8" rx="1.3" fill="#4a8799"/>
<rect x="757.93" y="644.36" width="7.07" height="8.8" fill="#3a7696"/>
</g>
<clipPath id="bc13"><path d="M787.9,667.59 H953.4 A3.6,3.6 0 0 1 957,671.19 V678.19 A3.6,3.6 0 0 1 953.4,681.79 H787.9 A3.6,3.6 0 0 1 784.3,678.19 V671.19 A3.6,3.6 0 0 1 787.9,667.59 Z"/></clipPath>
<path d="M787.9,667.59 H953.4 A3.6,3.6 0 0 1 957,671.19 V678.19 A3.6,3.6 0 0 1 953.4,681.79 H787.9 A3.6,3.6 0 0 1 784.3,678.19 V671.19 A3.6,3.6 0 0 1 787.9,667.59 Z" fill="#56b8ee"/>
<g clip-path="url(#bc13)">
<rect x="785.3" y="668.59" width="170.7" height="12.2" rx="2.6" fill="#6fd8f8"/>
<rect x="794.5" y="668.59" width="10.45" height="12.2" fill="#5cc6f4"/>
<rect x="831.07" y="668.59" width="10.45" height="12.2" fill="#5cc6f4"/>
<rect x="867.64" y="668.59" width="10.45" height="12.2" fill="#5cc6f4"/>
<rect x="904.21" y="668.59" width="10.45" height="12.2" fill="#5cc6f4"/>
<rect x="940.78" y="668.59" width="10.45" height="12.2" fill="#5cc6f4"/>
<rect x="788.3" y="670.49" width="122.7" height="8.8" rx="1.3" fill="#4a8799"/>
<rect x="794.5" y="670.49" width="10.45" height="8.8" fill="#3a7696"/>
<rect x="831.07" y="670.49" width="10.45" height="8.8" fill="#3a7696"/>
<rect x="867.64" y="670.49" width="10.45" height="8.8" fill="#3a7696"/>
<rect x="904.21" y="670.49" width="6.79" height="8.8" fill="#3a7696"/>
</g>
<polygon points="949,700.82 957.3,692.52 965.6,700.82 957.3,709.12" fill="#4e95d3"/>
<polygon points="950,700.82 957.3,693.52 964.6,700.82 957.3,708.12" fill="#84d4f7"/>
<polygon points="952.7,700.82 957.3,696.22 961.9,700.82 957.3,705.42" fill="#fff"/>
<polygon points="950.6,724.95 1555,724.95 1546.5,734.95 1541.4,728.95 963.4,728.95 958.6,734.95" fill="#c6e48c"/>
<polygon points="950.6,751.08 1095,751.08 1086.5,761.08 1081.4,755.08 963.4,755.08 958.6,761.08" fill="#c6e48c"/>
<clipPath id="bc17"><path d="M960.6,772.11 H1083.4 A3.6,3.6 0 0 1 1087,775.71 V782.71 A3.6,3.6 0 0 1 1083.4,786.31 H960.6 A3.6,3.6 0 0 1 957,782.71 V775.71 A3.6,3.6 0 0 1 960.6,772.11 Z"/></clipPath>
<path d="M960.6,772.11 H1083.4 A3.6,3.6 0 0 1 1087,775.71 V782.71 A3.6,3.6 0 0 1 1083.4,786.31 H960.6 A3.6,3.6 0 0 1 957,782.71 V775.71 A3.6,3.6 0 0 1 960.6,772.11 Z" fill="#92cf4e"/>
<g clip-path="url(#bc17)">
<rect x="958" y="773.11" width="128" height="12.2" rx="2.6" fill="#c1e480"/>
<rect x="977.35" y="773.11" width="10.45" height="12.2" fill="#a8d95b"/>
<rect x="1013.92" y="773.11" width="10.45" height="12.2" fill="#a8d95b"/>
<rect x="1050.49" y="773.11" width="10.45" height="12.2" fill="#a8d95b"/>
<rect x="987.8" y="773.11" width="5.22" height="12.2" fill="#a8d95b"/>
<rect x="961" y="775.01" width="90.9" height="8.8" rx="1.3" fill="#768b4e"/>
<rect x="977.35" y="775.01" width="10.45" height="8.8" fill="#637f37"/>
<rect x="1013.92" y="775.01" width="10.45" height="8.8" fill="#637f37"/>
<rect x="1050.49" y="775.01" width="1.41" height="8.8" fill="#637f37"/>
<rect x="987.8" y="775.01" width="5.22" height="8.8" fill="#637f37"/>
</g>
<clipPath id="bc18"><path d="M960.6,798.24 H1083.4 A3.6,3.6 0 0 1 1087,801.84 V808.84 A3.6,3.6 0 0 1 1083.4,812.44 H960.6 A3.6,3.6 0 0 1 957,808.84 V801.84 A3.6,3.6 0 0 1 960.6,798.24 Z"/></clipPath>
<path d="M960.6,798.24 H1083.4 A3.6,3.6 0 0 1 1087,801.84 V808.84 A3.6,3.6 0 0 1 1083.4,812.44 H960.6 A3.6,3.6 0 0 1 957,808.84 V801.84 A3.6,3.6 0 0 1 960.6,798.24 Z" fill="#92cf4e"/>
<g clip-path="url(#bc18)">
<rect x="958" y="799.24" width="128" height="12.2" rx="2.6" fill="#c1e480"/>
<rect x="977.35" y="799.24" width="10.45" height="12.2" fill="#a8d95b"/>
<rect x="1013.92" y="799.24" width="10.45" height="12.2" fill="#a8d95b"/>
<rect x="1050.49" y="799.24" width="10.45" height="12.2" fill="#a8d95b"/>
<rect x="987.8" y="799.24" width="5.22" height="12.2" fill="#a8d95b"/>
<rect x="961" y="801.14" width="90.9" height="8.8" rx="1.3" fill="#768b4e"/>
<rect x="977.35" y="801.14" width="10.45" height="8.8" fill="#637f37"/>
<rect x="1013.92" y="801.14" width="10.45" height="8.8" fill="#637f37"/>
<rect x="1050.49" y="801.14" width="1.41" height="8.8" fill="#637f37"/>
<rect x="987.8" y="801.14" width="5.22" height="8.8" fill="#637f37"/>
</g>
<clipPath id="bc19"><path d="M960.6,824.37 H1083.4 A3.6,3.6 0 0 1 1087,827.97 V834.97 A3.6,3.6 0 0 1 1083.4,838.57 H960.6 A3.6,3.6 0 0 1 957,834.97 V827.97 A3.6,3.6 0 0 1 960.6,824.37 Z"/></clipPath>
<path d="M960.6,824.37 H1083.4 A3.6,3.6 0 0 1 1087,827.97 V834.97 A3.6,3.6 0 0 1 1083.4,838.57 H960.6 A3.6,3.6 0 0 1 957,834.97 V827.97 A3.6,3.6 0 0 1 960.6,824.37 Z" fill="#92cf4e"/>
<g clip-path="url(#bc19)">
<rect x="958" y="825.37" width="128" height="12.2" rx="2.6" fill="#c1e480"/>
<rect x="977.35" y="825.37" width="10.45" height="12.2" fill="#a8d95b"/>
<rect x="1013.92" y="825.37" width="10.45" height="12.2" fill="#a8d95b"/>
<rect x="1050.49" y="825.37" width="10.45" height="12.2" fill="#a8d95b"/>
<rect x="987.8" y="825.37" width="5.22" height="12.2" fill="#a8d95b"/>
<rect x="961" y="827.27" width="59.6" height="8.8" rx="1.3" fill="#768b4e"/>
<rect x="977.35" y="827.27" width="10.45" height="8.8" fill="#637f37"/>
<rect x="1013.92" y="827.27" width="6.68" height="8.8" fill="#637f37"/>
<rect x="987.8" y="827.27" width="5.22" height="8.8" fill="#637f37"/>
</g>
<clipPath id="bc20"><path d="M1101.6,850.5 H1256.1 A3.6,3.6 0 0 1 1259.7,854.1 V861.1 A3.6,3.6 0 0 1 1256.1,864.7 H1101.6 A3.6,3.6 0 0 1 1098,861.1 V854.1 A3.6,3.6 0 0 1 1101.6,850.5 Z"/></clipPath>
<path d="M1101.6,850.5 H1256.1 A3.6,3.6 0 0 1 1259.7,854.1 V861.1 A3.6,3.6 0 0 1 1256.1,864.7 H1101.6 A3.6,3.6 0 0 1 1098,861.1 V854.1 A3.6,3.6 0 0 1 1101.6,850.5 Z" fill="#92cf4e"/>
<g clip-path="url(#bc20)">
<rect x="1099" y="851.5" width="159.7" height="12.2" rx="2.6" fill="#c1e480"/>
<rect x="1123.63" y="851.5" width="10.45" height="12.2" fill="#a8d95b"/>
<rect x="1160.2" y="851.5" width="10.45" height="12.2" fill="#a8d95b"/>
<rect x="1196.77" y="851.5" width="10.45" height="12.2" fill="#a8d95b"/>
<rect x="1233.34" y="851.5" width="10.45" height="12.2" fill="#a8d95b"/>
<rect x="1243.79" y="851.5" width="5.22" height="12.2" fill="#a8d95b"/>
<rect x="1102" y="853.4" width="114.9" height="8.8" rx="1.3" fill="#768b4e"/>
<rect x="1123.63" y="853.4" width="10.45" height="8.8" fill="#637f37"/>
<rect x="1160.2" y="853.4" width="10.45" height="8.8" fill="#637f37"/>
<rect x="1196.77" y="853.4" width="10.45" height="8.8" fill="#637f37"/>
</g>
<clipPath id="bc21"><path d="M1263.9,876.63 H1412.6 A3.6,3.6 0 0 1 1416.2,880.23 V887.23 A3.6,3.6 0 0 1 1412.6,890.83 H1263.9 A3.6,3.6 0 0 1 1260.3,887.23 V880.23 A3.6,3.6 0 0 1 1263.9,876.63 Z"/></clipPath>
<path d="M1263.9,876.63 H1412.6 A3.6,3.6 0 0 1 1416.2,880.23 V887.23 A3.6,3.6 0 0 1 1412.6,890.83 H1263.9 A3.6,3.6 0 0 1 1260.3,887.23 V880.23 A3.6,3.6 0 0 1 1263.9,876.63 Z" fill="#92cf4e"/>
<g clip-path="url(#bc21)">
<rect x="1261.3" y="877.63" width="153.9" height="12.2" rx="2.6" fill="#c1e480"/>
<rect x="1269.91" y="877.63" width="10.45" height="12.2" fill="#a8d95b"/>
<rect x="1306.48" y="877.63" width="10.45" height="12.2" fill="#a8d95b"/>
<rect x="1343.05" y="877.63" width="10.45" height="12.2" fill="#a8d95b"/>
<rect x="1379.62" y="877.63" width="10.45" height="12.2" fill="#a8d95b"/>
<rect x="1264.3" y="879.53" width="72.7" height="8.8" rx="1.3" fill="#768b4e"/>
<rect x="1269.91" y="879.53" width="10.45" height="8.8" fill="#637f37"/>
<rect x="1306.48" y="879.53" width="10.45" height="8.8" fill="#637f37"/>
</g>
<polygon points="1408.9,909.86 1417.2,901.56 1425.5,909.86 1417.2,918.16" fill="#9ccc5a"/>
<polygon points="1409.9,909.86 1417.2,902.56 1424.5,909.86 1417.2,917.16" fill="#c5e48a"/>
<clipPath id="bc23"><path d="M1430.9,928.89 H1543.4 A3.6,3.6 0 0 1 1547,932.49 V939.49 A3.6,3.6 0 0 1 1543.4,943.09 H1430.9 A3.6,3.6 0 0 1 1427.3,939.49 V932.49 A3.6,3.6 0 0 1 1430.9,928.89 Z"/></clipPath>
<path d="M1430.9,928.89 H1543.4 A3.6,3.6 0 0 1 1547,932.49 V939.49 A3.6,3.6 0 0 1 1543.4,943.09 H1430.9 A3.6,3.6 0 0 1 1427.3,939.49 V932.49 A3.6,3.6 0 0 1 1430.9,928.89 Z" fill="#92cf4e"/>
<g clip-path="url(#bc23)">
<rect x="1428.3" y="929.89" width="117.7" height="12.2" rx="2.6" fill="#c1e480"/>
<rect x="1452.76" y="929.89" width="10.45" height="12.2" fill="#a8d95b"/>
<rect x="1489.33" y="929.89" width="10.45" height="12.2" fill="#a8d95b"/>
<rect x="1525.9" y="929.89" width="10.45" height="12.2" fill="#a8d95b"/>
<rect x="1431.3" y="931.79" width="54.3" height="8.8" rx="1.3" fill="#768b4e"/>
<rect x="1452.76" y="931.79" width="10.45" height="8.8" fill="#637f37"/>
</g>
<polygon points="1539.5,962.12 1547.8,953.82 1556.1,962.12 1547.8,970.42" fill="#9ccc5a"/>
<polygon points="1540.5,962.12 1547.8,954.82 1555.1,962.12 1547.8,969.42" fill="#c7e58f"/>
<polygon points="1543.2,962.12 1547.8,957.52 1552.4,962.12 1547.8,966.72" fill="#fff"/>
<polygon points="1535.6,986.25 1748,986.25 1739.5,996.25 1734.4,990.25 1548.4,990.25 1543.6,996.25" fill="#f5be3d"/>
<polygon points="1539.4,1014.38 1547.7,1006.08 1556,1014.38 1547.7,1022.68" fill="#e3a42d"/>
<polygon points="1540.4,1014.38 1547.7,1007.08 1555,1014.38 1547.7,1021.68" fill="#f5c03e"/>
<clipPath id="bc27"><path d="M1550.9,1033.41 H1736.2 A3.6,3.6 0 0 1 1739.8,1037.01 V1044.01 A3.6,3.6 0 0 1 1736.2,1047.61 H1550.9 A3.6,3.6 0 0 1 1547.3,1044.01 V1037.01 A3.6,3.6 0 0 1 1550.9,1033.41 Z"/></clipPath>
<path d="M1550.9,1033.41 H1736.2 A3.6,3.6 0 0 1 1739.8,1037.01 V1044.01 A3.6,3.6 0 0 1 1736.2,1047.61 H1550.9 A3.6,3.6 0 0 1 1547.3,1044.01 V1037.01 A3.6,3.6 0 0 1 1550.9,1033.41 Z" fill="#f0a43a"/>
<g clip-path="url(#bc27)">
<rect x="1548.3" y="1034.41" width="190.5" height="12.2" rx="2.6" fill="#f5c03f"/>
<rect x="1562.47" y="1034.41" width="10.45" height="12.2" fill="#f1a83b"/>
<rect x="1599.04" y="1034.41" width="10.45" height="12.2" fill="#f1a83b"/>
<rect x="1635.61" y="1034.41" width="10.45" height="12.2" fill="#f1a83b"/>
<rect x="1672.18" y="1034.41" width="10.45" height="12.2" fill="#f1a83b"/>
<rect x="1708.75" y="1034.41" width="10.45" height="12.2" fill="#f1a83b"/>
<rect x="1651.28" y="1034.41" width="5.22" height="12.2" fill="#f1a83b"/>
<rect x="1551.3" y="1036.31" width="43.7" height="8.8" rx="1.3" fill="#8c7428"/>
<rect x="1562.47" y="1036.31" width="10.45" height="8.8" fill="#7e6421"/>
</g>
<polygon points="1733.1,1066.64 1741.4,1058.34 1749.7,1066.64 1741.4,1074.94" fill="#e3a42d"/>
<polygon points="1734.1,1066.64 1741.4,1059.34 1748.7,1066.64 1741.4,1073.94" fill="#f5c445"/>
<polygon points="1736.8,1066.64 1741.4,1062.04 1746,1066.64 1741.4,1071.24" fill="#fff"/>
<polygon points="1734.4,1090.77 1990,1090.77 1981.5,1100.77 1976.4,1094.77 1747.2,1094.77 1742.4,1100.77" fill="#b52a1e"/>
<clipPath id="bc30"><path d="M1743.9,1111.8 H1986.4 A3.6,3.6 0 0 1 1990,1115.4 V1122.4 A3.6,3.6 0 0 1 1986.4,1126 H1743.9 A3.6,3.6 0 0 1 1740.3,1122.4 V1115.4 A3.6,3.6 0 0 1 1743.9,1111.8 Z"/></clipPath>
<path d="M1743.9,1111.8 H1986.4 A3.6,3.6 0 0 1 1990,1115.4 V1122.4 A3.6,3.6 0 0 1 1986.4,1126 H1743.9 A3.6,3.6 0 0 1 1740.3,1122.4 V1115.4 A3.6,3.6 0 0 1 1743.9,1111.8 Z" fill="#a8231a"/>
<g clip-path="url(#bc30)">
<rect x="1741.3" y="1112.8" width="247.7" height="12.2" rx="2.6" fill="#c82b1f"/>
<rect x="1745.32" y="1112.8" width="10.45" height="12.2" fill="#b8261a"/>
<rect x="1781.89" y="1112.8" width="10.45" height="12.2" fill="#b8261a"/>
<rect x="1818.46" y="1112.8" width="10.45" height="12.2" fill="#b8261a"/>
<rect x="1855.03" y="1112.8" width="10.45" height="12.2" fill="#b8261a"/>
<rect x="1891.6" y="1112.8" width="10.45" height="12.2" fill="#b8261a"/>
<rect x="1928.17" y="1112.8" width="10.45" height="12.2" fill="#b8261a"/>
<rect x="1964.74" y="1112.8" width="10.45" height="12.2" fill="#b8261a"/>
<rect x="1741.3" y="1112.8" width="4.02" height="12.2" fill="#b8261a"/>
<rect x="1755.77" y="1112.8" width="5.22" height="12.2" fill="#b8261a"/>
<rect x="1744.3" y="1113.7" width="242" height="10.6" rx="1.3" fill="#741610"/>
<rect x="1745.32" y="1113.7" width="10.45" height="10.6" fill="#60100b"/>
<rect x="1781.89" y="1113.7" width="10.45" height="10.6" fill="#60100b"/>
<rect x="1818.46" y="1113.7" width="10.45" height="10.6" fill="#60100b"/>
<rect x="1855.03" y="1113.7" width="10.45" height="10.6" fill="#60100b"/>
<rect x="1891.6" y="1113.7" width="10.45" height="10.6" fill="#60100b"/>
<rect x="1928.17" y="1113.7" width="10.45" height="10.6" fill="#60100b"/>
<rect x="1964.74" y="1113.7" width="10.45" height="10.6" fill="#60100b"/>
<rect x="1744.3" y="1113.7" width="1.02" height="10.6" fill="#60100b"/>
<rect x="1755.77" y="1113.7" width="5.22" height="10.6" fill="#60100b"/>
</g>
<text transform="matrix(1,0,0,0.98,449.2,338.7)" font-size="15.64" fill="#203d63" text-anchor="end" font-weight="bold" stroke="#203d63" stroke-width="0.06">1 Project Management</text>
<text transform="matrix(1,0,0,0.98,449.8,364.83)" font-size="15.68" fill="#203d63" text-anchor="end" stroke="#203d63" stroke-width="0.28">1.1 Project Planning</text>
<text transform="matrix(1,0,0,0.98,554,364.83)" font-size="15.7" fill="#203d63" stroke="#203d63" stroke-width="0.28">CristinaM 20h; RominaS 5h; SanazC 5h; StevenR 20h; YiniC 30h</text>
<text transform="matrix(1,0,0,0.98,491.8,390.96)" font-size="15.68" fill="#203d63" text-anchor="end" stroke="#203d63" stroke-width="0.28">1.2 Project Controlling</text>
<text transform="matrix(1,0,0,0.98,1536.2,390.96)" font-size="15.7" fill="#203d63" stroke="#203d63" stroke-width="0.28">BrianG 20h; CristinaM 120h; RominaS 30h; SanazC 30h; StevenR 30h</text>
<text transform="matrix(1,0,0,0.98,1474.4,417.09)" font-size="15.62" fill="#203d63" text-anchor="end" font-weight="bold" font-style="italic" stroke="#203d63" stroke-width="0.06">1.4 Project Closed</text>
<text transform="matrix(1,0,0,0.98,491.2,443.22)" font-size="15.64" fill="#203d63" text-anchor="end" font-weight="bold" stroke="#203d63" stroke-width="0.06">2 Requirements</text>
<text transform="matrix(1,0,0,0.98,491.8,469.35)" font-size="15.68" fill="#203d63" text-anchor="end" stroke="#203d63" stroke-width="0.28">2.1 Collect Requirements</text>
<text transform="matrix(1,0,0,0.98,627.5,469.35)" font-size="15.7" fill="#203d63" stroke="#203d63" stroke-width="0.28">ChangW 40h; SanazC 10h; StevenR 8h; YiniC 5h</text>
<text transform="matrix(1,0,0,0.98,491.8,495.48)" font-size="15.68" fill="#203d63" text-anchor="end" stroke="#203d63" stroke-width="0.28">2.2 Create Requirements List</text>
<text transform="matrix(1,0,0,0.98,627.5,495.48)" font-size="15.7" fill="#203d63" stroke="#203d63" stroke-width="0.28">CristinaM 80h</text>
<text transform="matrix(1,0,0,0.98,565.3,521.61)" font-size="15.62" fill="#203d63" text-anchor="end" font-weight="bold" font-style="italic" stroke="#203d63" stroke-width="0.06">2.3 Requirements List Done</text>
<text transform="matrix(1,0,0,0.98,628,521.61)" font-size="15.7" fill="#203d63" stroke="#203d63" stroke-width="0.28">CristinaM</text>
<text transform="matrix(1,0,0,0.98,564.5,547.74)" font-size="15.64" fill="#203d63" text-anchor="end" font-weight="bold" stroke="#203d63" stroke-width="0.06">3 Vendors Pre-Selection</text>
<text transform="matrix(1,0,0,0.98,565.1,573.87)" font-size="15.68" fill="#203d63" text-anchor="end" stroke="#203d63" stroke-width="0.28">3.1 Identify suitable vendors (Gartner PPM)</text>
<text transform="matrix(1,0,0,0.98,663.8,573.87)" font-size="15.7" fill="#203d63" stroke="#203d63" stroke-width="0.28">MichaelS 8h</text>
<text transform="matrix(1,0,0,0.98,601.9,600)" font-size="15.68" fill="#203d63" text-anchor="end" stroke="#203d63" stroke-width="0.28">3.2 Send RFI</text>
<text transform="matrix(1,0,0,0.98,700.4,600)" font-size="15.7" fill="#203d63" stroke="#203d63" stroke-width="0.28">MichaelS 8h</text>
<text transform="matrix(1,0,0,0.98,638.3,626.13)" font-size="15.68" fill="#203d63" text-anchor="end" stroke="#203d63" stroke-width="0.28">3.3 Evaluate feedbacks</text>
<text transform="matrix(1,0,0,0.98,778.7,626.13)" font-size="15.7" fill="#203d63" stroke="#203d63" stroke-width="0.28">HannahS 30h; MichaelS 40h; PatrickC 40h; PeterA 30h</text>
<text transform="matrix(1,0,0,0.98,716.6,652.26)" font-size="15.68" fill="#203d63" text-anchor="end" stroke="#203d63" stroke-width="0.28">3.4 Perform vendors demos</text>
<text transform="matrix(1,0,0,0.98,815.4,652.26)" font-size="15.7" fill="#203d63" stroke="#203d63" stroke-width="0.28">ChangW 6h; CristinaM 6h; GeraldS 6h; MelindaW 6h; MichaelS 6h; RominaS 10h</text>
<text transform="matrix(1,0,0,0.98,752.9,678.39)" font-size="15.68" fill="#203d63" text-anchor="end" stroke="#203d63" stroke-width="0.28">3.5 Create vendors short-list</text>
<text transform="matrix(1,0,0,0.98,988.2,678.39)" font-size="15.7" fill="#203d63" stroke="#203d63" stroke-width="0.28">CristinaM 5h; HannahS 20h; MichaelS 5h; RajC 30h</text>
<text transform="matrix(1,0,0,0.98,925.3,704.52)" font-size="15.62" fill="#203d63" text-anchor="end" font-weight="bold" font-style="italic" stroke="#203d63" stroke-width="0.06">3.6 Vendor short-list validated</text>
<text transform="matrix(1,0,0,0.98,988.3,704.52)" font-size="15.7" fill="#203d63" stroke="#203d63" stroke-width="0.28">MichaelS</text>
<text transform="matrix(1,0,0,0.98,925.3,730.65)" font-size="15.64" fill="#203d63" text-anchor="end" font-weight="bold" stroke="#203d63" stroke-width="0.06">4 Vendor selection and order</text>
<text transform="matrix(1,0,0,0.98,925.3,756.78)" font-size="15.64" fill="#203d63" text-anchor="end" font-weight="bold" stroke="#203d63" stroke-width="0.06">4.1 Proofs of concept</text>
<text transform="matrix(1,0,0,0.98,925.9,782.91)" font-size="15.68" fill="#203d63" text-anchor="end" stroke="#203d63" stroke-width="0.28">4.1.1 Tests vendor 12XC</text>
<text transform="matrix(1,0,0,0.98,1118.2,782.91)" font-size="15.7" fill="#203d63" stroke="#203d63" stroke-width="0.28">ChangW 16,67h; CristinaM 16,67h; HannahS 30h; MelindaW 16,67h; PatrickC 10h; PeterA 30h</text>
<text transform="matrix(1,0,0,0.98,925.9,809.04)" font-size="15.68" fill="#203d63" text-anchor="end" stroke="#203d63" stroke-width="0.28">4.1.2 Tests vendor 13XY</text>
<text transform="matrix(1,0,0,0.98,1118.2,809.04)" font-size="15.7" fill="#203d63" stroke="#203d63" stroke-width="0.28">ChangW 16,67h; CristinaM 16,67h; MelindaW 16,67h; RominaS 20h; StevenR 32h</text>
<text transform="matrix(1,0,0,0.98,925.9,835.17)" font-size="15.68" fill="#203d63" text-anchor="end" stroke="#203d63" stroke-width="0.28">4.1.3 Tests vendor 14CC</text>
<text transform="matrix(1,0,0,0.98,1118.2,835.17)" font-size="15.7" fill="#203d63" stroke="#203d63" stroke-width="0.28">ChangW 16,67h; CristinaM 16,67h; MelindaW 16,67h</text>
<text transform="matrix(1,0,0,0.98,1066.9,861.3)" font-size="15.68" fill="#203d63" text-anchor="end" stroke="#203d63" stroke-width="0.28">4.2 Get final offers</text>
<text transform="matrix(1,0,0,0.98,1290.9,861.3)" font-size="15.7" fill="#203d63" stroke="#203d63" stroke-width="0.28">MichaelS 8h; StevenR 30h</text>
<text transform="matrix(1,0,0,0.98,1228.9,887.43)" font-size="15.68" fill="#203d63" text-anchor="end" stroke="#203d63" stroke-width="0.28">4.3 Selection negotiations</text>
<text transform="matrix(1,0,0,0.98,1447.4,887.43)" font-size="15.7" fill="#203d63" stroke="#203d63" stroke-width="0.28">GeraldS 8h; RajC 20h; RominaS 30h; SanazC 10h</text>
<text transform="matrix(1,0,0,0.98,1385.3,913.56)" font-size="15.62" fill="#203d63" text-anchor="end" font-weight="bold" font-style="italic" stroke="#203d63" stroke-width="0.06">4.4 Vendor selected</text>
<text transform="matrix(1,0,0,0.98,1448.2,913.56)" font-size="15.7" fill="#203d63" stroke="#203d63" stroke-width="0.28">CristinaM</text>
<text transform="matrix(1,0,0,0.98,1395.9,939.69)" font-size="15.68" fill="#203d63" text-anchor="end" stroke="#203d63" stroke-width="0.28">4.5 Place PPM tool order</text>
<text transform="matrix(1,0,0,0.98,1578.2,939.69)" font-size="15.7" fill="#203d63" stroke="#203d63" stroke-width="0.28">CristinaM 4h; StevenR 30h</text>
<text transform="matrix(1,0,0,0.98,1516,965.82)" font-size="15.62" fill="#203d63" text-anchor="end" font-weight="bold" font-style="italic" stroke="#203d63" stroke-width="0.06">4.6 PPM tool ordered</text>
<text transform="matrix(1,0,0,0.98,1578.8,965.82)" font-size="15.7" fill="#203d63" stroke="#203d63" stroke-width="0.28">CristinaM</text>
<text transform="matrix(1,0,0,0.98,1510,991.95)" font-size="15.64" fill="#203d63" text-anchor="end" font-weight="bold" stroke="#203d63" stroke-width="0.06">5 Software delivery and installation</text>
<text transform="matrix(1,0,0,0.98,1516,1018.08)" font-size="15.62" fill="#203d63" text-anchor="end" font-weight="bold" font-style="italic" stroke="#203d63" stroke-width="0.06">5.1 Installation package delivered</text>
<text transform="matrix(1,0,0,0.98,1578.7,1018.08)" font-size="15.7" fill="#203d63" stroke="#203d63" stroke-width="0.28">MelindaW</text>
<text transform="matrix(1,0,0,0.98,1516.1,1044.21)" font-size="15.68" fill="#203d63" text-anchor="end" stroke="#203d63" stroke-width="0.28">5.2 Software installation</text>
<text transform="matrix(1,0,0,0.98,1771,1044.21)" font-size="15.7" fill="#203d63" stroke="#203d63" stroke-width="0.28">HannahS 20h; MelindaW 20h; MichaelS 10h</text>
<text transform="matrix(1,0,0,0.98,1709.4,1070.34)" font-size="15.62" fill="#203d63" text-anchor="end" font-weight="bold" font-style="italic" stroke="#203d63" stroke-width="0.06">5.3 Software installed</text>
<text transform="matrix(1,0,0,0.98,1772.4,1070.34)" font-size="15.7" fill="#203d63" stroke="#203d63" stroke-width="0.28">MelindaW</text>
<text transform="matrix(1,0,0,0.98,1709,1096.47)" font-size="15.64" fill="#203d63" text-anchor="end" font-weight="bold" stroke="#203d63" stroke-width="0.06">6 implementation and trainings</text>
<text transform="matrix(1,0,0,0.98,1709.1,1122.6)" font-size="15.68" fill="#203d63" text-anchor="end" stroke="#203d63" stroke-width="0.28">6.1 ONEPOINT training 1 (admin and PMO)</text>
</g></svg>
</body></html>
